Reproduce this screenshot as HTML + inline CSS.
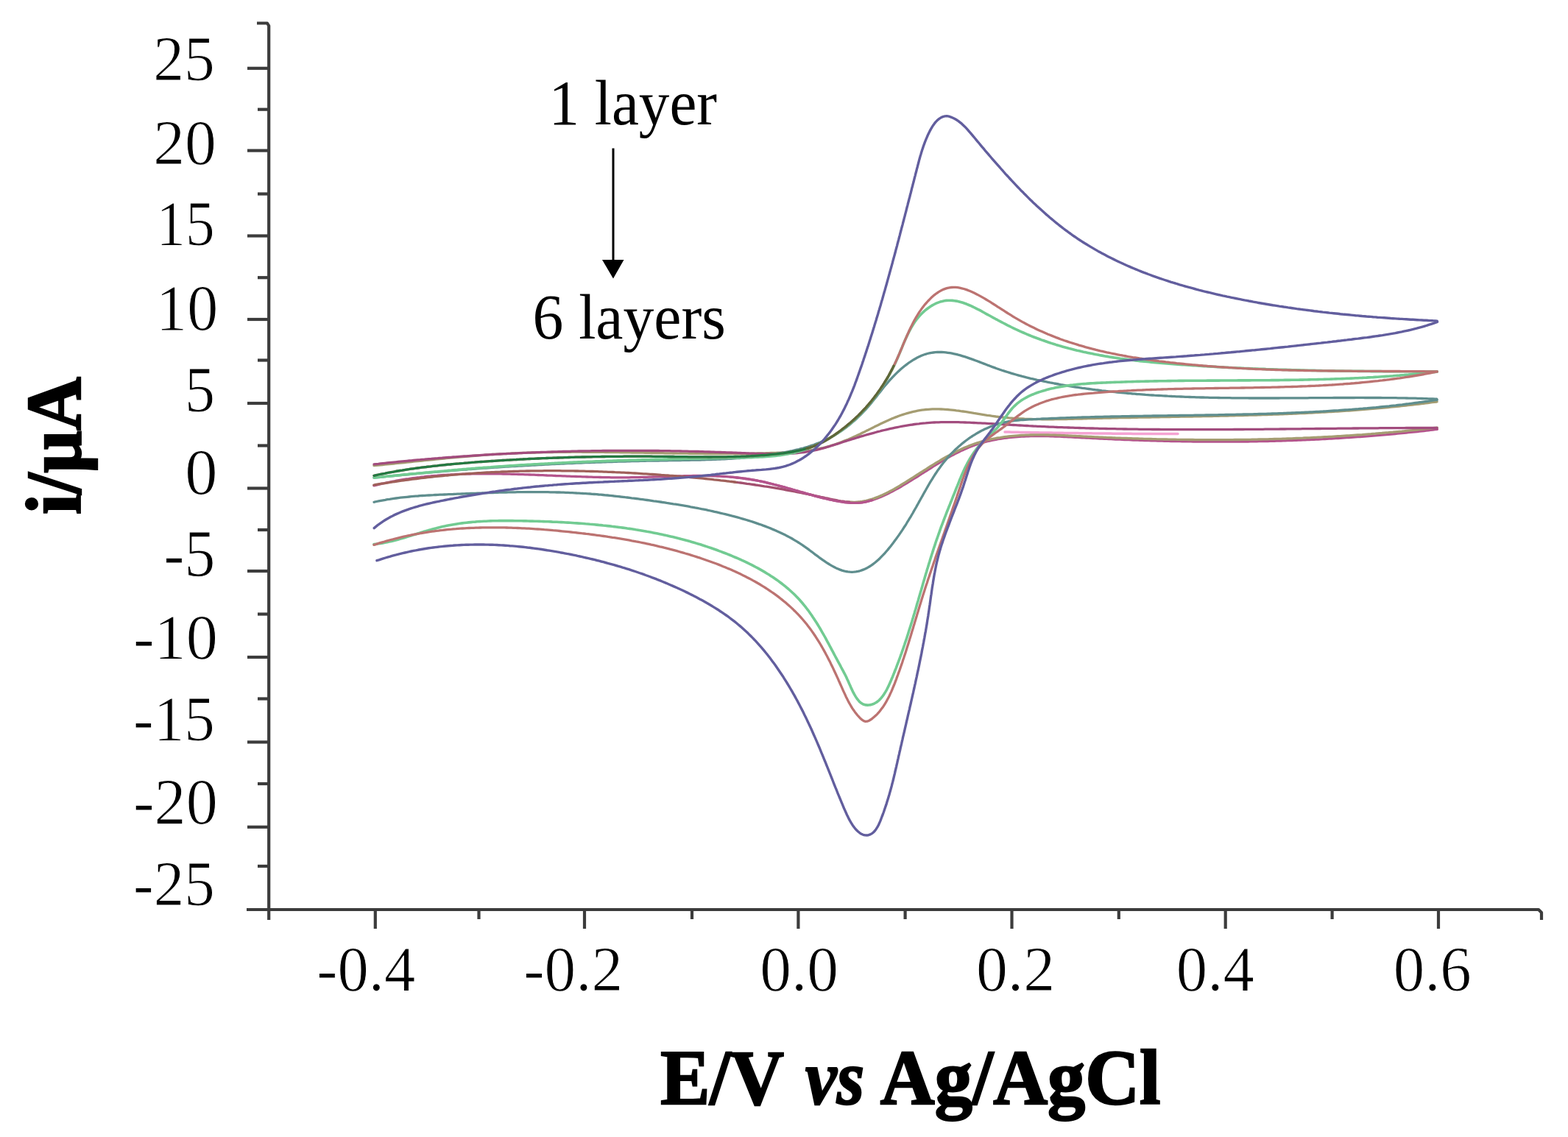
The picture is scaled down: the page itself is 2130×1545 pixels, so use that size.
<!DOCTYPE html>
<html><head><meta charset="utf-8"><title>Cyclic voltammograms</title>
<style>
html,body{margin:0;padding:0;background:#fff;}
body{width:2130px;height:1545px;overflow:hidden;}
svg{display:block;}
</style></head>
<body>
<svg width="2130" height="1545" viewBox="0 0 2130 1545">
<rect width="2130" height="1545" fill="#fff"/>
<path d="M349,31.5 L363,31.5 L365.2,35 L365.2,1250" fill="none" stroke="#3c3c3c" stroke-width="4.2" stroke-linejoin="round"/>
<path d="M335,1236 L2090,1236 L2094,1240 L2094,1250" fill="none" stroke="#3c3c3c" stroke-width="4.2" stroke-linejoin="round"/>
<line x1="336" y1="92.8" x2="365.2" y2="92.8" stroke="#3c3c3c" stroke-width="4.2"/>
<line x1="336" y1="204.6" x2="365.2" y2="204.6" stroke="#3c3c3c" stroke-width="4.2"/>
<line x1="336" y1="320.5" x2="365.2" y2="320.5" stroke="#3c3c3c" stroke-width="4.2"/>
<line x1="336" y1="434" x2="365.2" y2="434" stroke="#3c3c3c" stroke-width="4.2"/>
<line x1="336" y1="548" x2="365.2" y2="548" stroke="#3c3c3c" stroke-width="4.2"/>
<line x1="336" y1="663.5" x2="365.2" y2="663.5" stroke="#3c3c3c" stroke-width="4.2"/>
<line x1="336" y1="776" x2="365.2" y2="776" stroke="#3c3c3c" stroke-width="4.2"/>
<line x1="336" y1="893" x2="365.2" y2="893" stroke="#3c3c3c" stroke-width="4.2"/>
<line x1="336" y1="1008.4" x2="365.2" y2="1008.4" stroke="#3c3c3c" stroke-width="4.2"/>
<line x1="336" y1="1123.8" x2="365.2" y2="1123.8" stroke="#3c3c3c" stroke-width="4.2"/>
<line x1="350" y1="148.7" x2="365.2" y2="148.7" stroke="#3c3c3c" stroke-width="4.2"/>
<line x1="350" y1="263.5" x2="365.2" y2="263.5" stroke="#3c3c3c" stroke-width="4.2"/>
<line x1="350" y1="377.2" x2="365.2" y2="377.2" stroke="#3c3c3c" stroke-width="4.2"/>
<line x1="350" y1="489.5" x2="365.2" y2="489.5" stroke="#3c3c3c" stroke-width="4.2"/>
<line x1="350" y1="605.5" x2="365.2" y2="605.5" stroke="#3c3c3c" stroke-width="4.2"/>
<line x1="350" y1="720" x2="365.2" y2="720" stroke="#3c3c3c" stroke-width="4.2"/>
<line x1="350" y1="834.5" x2="365.2" y2="834.5" stroke="#3c3c3c" stroke-width="4.2"/>
<line x1="350" y1="949.5" x2="365.2" y2="949.5" stroke="#3c3c3c" stroke-width="4.2"/>
<line x1="350" y1="1065" x2="365.2" y2="1065" stroke="#3c3c3c" stroke-width="4.2"/>
<line x1="350" y1="1177" x2="365.2" y2="1177" stroke="#3c3c3c" stroke-width="4.2"/>
<line x1="509.8" y1="1236" x2="509.8" y2="1262" stroke="#3c3c3c" stroke-width="4.2"/>
<line x1="794" y1="1236" x2="794" y2="1262" stroke="#3c3c3c" stroke-width="4.2"/>
<line x1="1084.4" y1="1236" x2="1084.4" y2="1262" stroke="#3c3c3c" stroke-width="4.2"/>
<line x1="1374.5" y1="1236" x2="1374.5" y2="1262" stroke="#3c3c3c" stroke-width="4.2"/>
<line x1="1664.7" y1="1236" x2="1664.7" y2="1262" stroke="#3c3c3c" stroke-width="4.2"/>
<line x1="1954" y1="1236" x2="1954" y2="1262" stroke="#3c3c3c" stroke-width="4.2"/>
<line x1="650.5" y1="1236" x2="650.5" y2="1249" stroke="#3c3c3c" stroke-width="4.2"/>
<line x1="940" y1="1236" x2="940" y2="1249" stroke="#3c3c3c" stroke-width="4.2"/>
<line x1="1229.6" y1="1236" x2="1229.6" y2="1249" stroke="#3c3c3c" stroke-width="4.2"/>
<line x1="1519.8" y1="1236" x2="1519.8" y2="1249" stroke="#3c3c3c" stroke-width="4.2"/>
<line x1="1809.6" y1="1236" x2="1809.6" y2="1249" stroke="#3c3c3c" stroke-width="4.2"/>
<g fill="#000" font-family="'Liberation Serif', 'Times New Roman', serif">
<text transform="translate(208.23,109.46) scale(0.9744,1)" font-size="85.73" font-weight="normal" font-style="normal" stroke="#fff" stroke-width="1.0">25</text>
<text transform="translate(208.14,222.66) scale(0.9979,1)" font-size="85.8" font-weight="normal" font-style="normal" stroke="#fff" stroke-width="1.0">20</text>
<text transform="translate(212.22,333.45) scale(0.9168,1)" font-size="86.58" font-weight="normal" font-style="normal" stroke="#fff" stroke-width="1.0">15</text>
<text transform="translate(212.11,447.84) scale(0.9553,1)" font-size="88.03" font-weight="normal" font-style="normal" stroke="#fff" stroke-width="1.0">10</text>
<text transform="translate(251.03,559.02) scale(0.9146,1)" font-size="89.84" font-weight="normal" font-style="normal" stroke="#fff" stroke-width="1.0">5</text>
<text transform="translate(251.13,671.13) scale(0.9952,1)" font-size="88.91" font-weight="normal" font-style="normal" stroke="#fff" stroke-width="1.0">0</text>
<text transform="translate(222.49,783.41) scale(0.9217,1)" font-size="90.89" font-weight="normal" font-style="normal" stroke="#fff" stroke-width="1.0">-5</text>
<text transform="translate(180.90,895.16) scale(0.9992,1)" font-size="86.25" font-weight="normal" font-style="normal" stroke="#fff" stroke-width="1.0">-10</text>
<text transform="translate(181.02,1006.45) scale(0.9594,1)" font-size="86.58" font-weight="normal" font-style="normal" stroke="#fff" stroke-width="1.0">-15</text>
<text transform="translate(180.90,1119.44) scale(0.9774,1)" font-size="88.17" font-weight="normal" font-style="normal" stroke="#fff" stroke-width="1.0">-20</text>
<text transform="translate(181.02,1230.46) scale(0.9622,1)" font-size="86.33" font-weight="normal" font-style="normal" stroke="#fff" stroke-width="1.0">-25</text>
<text transform="translate(430.36,1345.70) scale(0.9840,1)" font-size="86" font-weight="normal" font-style="normal" stroke="#fff" stroke-width="1.0">-0.4</text>
<text transform="translate(711.13,1345.70) scale(0.9922,1)" font-size="86" font-weight="normal" font-style="normal" stroke="#fff" stroke-width="1.0">-0.2</text>
<text transform="translate(1032.25,1345.70) scale(0.9936,1)" font-size="86" font-weight="normal" font-style="normal" stroke="#fff" stroke-width="1.0">0.0</text>
<text transform="translate(1325.93,1345.70) scale(0.9982,1)" font-size="86" font-weight="normal" font-style="normal" stroke="#fff" stroke-width="1.0">0.2</text>
<text transform="translate(1597.87,1345.70) scale(0.9856,1)" font-size="86" font-weight="normal" font-style="normal" stroke="#fff" stroke-width="1.0">0.4</text>
<text transform="translate(1892.67,1345.70) scale(0.9876,1)" font-size="86" font-weight="normal" font-style="normal" stroke="#fff" stroke-width="1.0">0.6</text>
<text transform="translate(745.49,169.10) scale(0.9503,1)" font-size="87.5" font-weight="normal" font-style="normal" >1 layer</text>
<text transform="translate(723.41,460.00) scale(0.9558,1)" font-size="87.5" font-weight="normal" font-style="normal" >6 layers</text>
<text transform="translate(897.18,1500.30) scale(0.9538,1)" font-size="105.5" font-weight="bold" font-style="normal" stroke="#000" stroke-width="2.4">E/V</text>
<text transform="translate(1094.11,1500.30) scale(0.9108,1)" font-size="105.5" font-weight="bold" font-style="italic" stroke="#000" stroke-width="2.4">vs</text>
<text transform="translate(1195.80,1500.30) scale(0.9696,1)" font-size="105.5" font-weight="bold" font-style="normal" stroke="#000" stroke-width="2.4">Ag/AgCl</text>
<text transform="translate(108.8,699.02) rotate(-90) scale(0.9558,1)" font-size="105.5" font-weight="bold" stroke="#000" stroke-width="2.4">i/µA</text>
</g>
<line x1="833" y1="201.5" x2="833" y2="356" stroke="#000" stroke-width="3"/>
<path d="M818,353 L847.5,353 L833,378.5 Z" fill="#000"/>
<g fill="none" stroke-linejoin="round" stroke-linecap="round">
<path d="M1365.0,587.0 L1368.0,587.1 L1371.0,587.1 L1374.0,587.2 L1377.0,587.2 L1380.0,587.3 L1383.0,587.3 L1386.0,587.4 L1389.0,587.4 L1392.0,587.5 L1395.0,587.6 L1398.0,587.6 L1401.0,587.7 L1404.0,587.7 L1407.0,587.8 L1410.0,587.8 L1413.0,587.9 L1416.0,587.9 L1419.0,588.0 L1422.0,588.0 L1425.0,588.1 L1428.0,588.1 L1431.0,588.2 L1434.0,588.2 L1437.0,588.2 L1440.0,588.3 L1443.0,588.3 L1446.0,588.4 L1449.0,588.4 L1452.0,588.5 L1455.0,588.5 L1458.0,588.5 L1461.0,588.6 L1464.0,588.6 L1467.0,588.7 L1470.0,588.7 L1473.0,588.7 L1476.0,588.8 L1479.0,588.8 L1482.0,588.8 L1485.0,588.9 L1488.0,588.9 L1491.0,588.9 L1494.0,589.0 L1497.0,589.0 L1500.0,589.0 L1503.0,589.1 L1506.0,589.1 L1509.0,589.1 L1512.0,589.2 L1515.0,589.2 L1518.0,589.2 L1521.0,589.2 L1524.0,589.3 L1527.0,589.3 L1530.0,589.3 L1533.0,589.3 L1536.0,589.3 L1539.0,589.4 L1542.0,589.4 L1545.0,589.4 L1548.0,589.4 L1551.0,589.4 L1554.0,589.4 L1557.0,589.4 L1560.0,589.5 L1563.0,589.5 L1566.0,589.5 L1569.0,589.5 L1572.0,589.5 L1575.0,589.5 L1578.0,589.5 L1581.0,589.5 L1584.0,589.5 L1587.0,589.5 L1590.0,589.5 L1593.0,589.5 L1596.0,589.5 L1599.0,589.5 L1600.0,589.5" stroke="#f5a3d3" stroke-width="3.5"/>
<path d="M1952.4,583.4 L1949.4,583.7 L1946.4,584.1 L1943.4,584.4 L1940.3,584.8 L1937.3,585.1 L1934.3,585.5 L1931.3,585.8 L1928.3,586.1 L1925.3,586.5 L1922.3,586.8 L1919.3,587.1 L1916.3,587.4 L1913.3,587.7 L1910.3,588.0 L1907.3,588.3 L1904.3,588.6 L1901.3,588.9 L1898.3,589.2 L1895.3,589.5 L1892.3,589.8 L1889.3,590.0 L1886.3,590.3 L1883.3,590.6 L1880.3,590.8 L1877.3,591.1 L1874.3,591.4 L1871.3,591.6 L1868.3,591.9 L1865.4,592.1 L1862.4,592.4 L1859.4,592.6 L1856.4,592.8 L1853.4,593.1 L1850.4,593.3 L1847.4,593.5 L1844.4,593.7 L1841.5,593.9 L1838.5,594.1 L1835.5,594.3 L1832.5,594.5 L1829.5,594.7 L1826.5,594.9 L1823.5,595.1 L1820.6,595.3 L1817.6,595.5 L1814.6,595.7 L1811.6,595.9 L1808.6,596.0 L1805.6,596.2 L1802.7,596.4 L1799.7,596.5 L1796.7,596.7 L1793.7,596.8 L1790.7,597.0 L1787.8,597.1 L1784.8,597.3 L1781.8,597.4 L1778.8,597.6 L1775.8,597.7 L1772.9,597.8 L1769.9,597.9 L1766.9,598.1 L1763.9,598.2 L1760.9,598.3 L1758.0,598.4 L1755.0,598.5 L1752.0,598.6 L1749.0,598.7 L1746.0,598.8 L1743.1,598.9 L1740.1,599.0 L1737.1,599.1 L1734.1,599.2 L1731.1,599.3 L1728.2,599.3 L1725.2,599.4 L1722.2,599.5 L1719.2,599.5 L1716.2,599.6 L1713.3,599.7 L1710.3,599.7 L1707.3,599.8 L1704.3,599.8 L1701.3,599.9 L1698.4,599.9 L1695.4,600.0 L1692.4,600.0 L1689.4,600.0 L1686.4,600.1 L1683.4,600.1 L1680.5,600.1 L1677.5,600.1 L1674.5,600.2 L1671.5,600.2 L1668.5,600.2 L1665.5,600.2 L1662.5,600.2 L1659.6,600.2 L1656.6,600.2 L1653.6,600.2 L1650.6,600.2 L1647.6,600.2 L1644.6,600.2 L1641.6,600.2 L1638.6,600.1 L1635.6,600.1 L1632.7,600.1 L1629.7,600.1 L1626.7,600.0 L1623.7,600.0 L1620.7,600.0 L1617.7,599.9 L1614.7,599.9 L1611.7,599.9 L1608.7,599.8 L1605.7,599.8 L1602.7,599.7 L1599.7,599.6 L1596.7,599.6 L1593.7,599.5 L1590.7,599.5 L1587.7,599.4 L1584.7,599.3 L1581.7,599.3 L1578.7,599.2 L1575.7,599.1 L1572.7,599.0 L1569.7,598.9 L1566.6,598.9 L1563.6,598.8 L1560.6,598.7 L1557.6,598.6 L1554.6,598.5 L1551.6,598.4 L1548.6,598.3 L1545.6,598.2 L1542.5,598.1 L1539.5,598.0 L1536.5,597.8 L1533.5,597.7 L1530.5,597.6 L1527.4,597.5 L1524.4,597.4 L1521.4,597.2 L1518.4,597.1 L1515.3,597.0 L1512.3,596.9 L1509.3,596.7 L1506.2,596.6 L1503.2,596.4 L1500.2,596.3 L1497.1,596.2 L1494.1,596.0 L1491.1,595.9 L1488.0,595.7 L1485.0,595.6 L1482.0,595.4 L1478.9,595.2 L1475.9,595.1 L1472.8,594.9 L1469.8,594.8 L1466.7,594.6 L1463.7,594.4 L1460.6,594.3 L1457.6,594.1 L1454.5,593.9 L1451.5,593.8 L1448.4,593.6 L1445.4,593.5 L1442.3,593.3 L1439.3,593.2 L1436.2,593.1 L1433.2,593.0 L1430.2,592.9 L1427.1,592.8 L1424.1,592.7 L1421.1,592.7 L1418.0,592.6 L1415.0,592.6 L1412.0,592.6 L1409.0,592.6 L1406.0,592.6 L1403.0,592.6 L1400.0,592.7 L1397.0,592.8 L1394.0,592.9 L1391.0,593.0 L1388.0,593.2 L1385.0,593.3 L1382.1,593.5 L1379.1,593.8 L1376.2,594.0 L1373.2,594.3 L1370.3,594.6 L1367.4,595.0 L1364.4,595.4 L1361.5,595.8 L1358.6,596.3 L1355.7,596.7 L1352.9,597.3 L1350.0,597.8 L1347.1,598.4 L1344.3,599.1 L1341.4,599.7 L1338.6,600.5 L1335.8,601.2 L1333.0,602.0 L1330.2,602.9 L1327.4,603.8 L1324.6,604.7 L1321.9,605.7 L1319.1,606.8 L1316.4,607.8 L1313.7,609.0 L1311.0,610.1 L1308.3,611.4 L1305.6,612.6 L1302.9,613.9 L1300.3,615.2 L1297.6,616.6 L1295.0,618.0 L1292.3,619.4 L1289.7,620.9 L1287.1,622.3 L1284.4,623.8 L1281.8,625.4 L1279.2,626.9 L1276.6,628.5 L1274.0,630.0 L1271.4,631.6 L1268.8,633.2 L1266.2,634.9 L1263.7,636.5 L1261.1,638.1 L1258.5,639.8 L1255.9,641.4 L1253.3,643.0 L1250.8,644.7 L1248.2,646.3 L1245.6,648.0 L1243.0,649.6 L1240.4,651.2 L1237.8,652.8 L1235.2,654.4 L1232.6,656.0 L1230.0,657.6 L1227.4,659.1 L1224.8,660.7 L1222.2,662.2 L1219.6,663.7 L1217.0,665.1 L1214.3,666.6 L1211.7,668.0 L1209.0,669.3 L1206.4,670.7 L1203.7,672.0 L1201.0,673.3 L1198.3,674.5 L1195.6,675.6 L1192.9,676.8 L1190.2,677.8 L1187.4,678.8 L1184.7,679.7 L1181.9,680.5 L1179.1,681.2 L1176.3,681.8 L1173.5,682.3 L1170.7,682.8 L1167.9,683.1 L1165.0,683.3 L1162.1,683.4 L1159.3,683.4 L1156.4,683.3 L1153.5,683.1 L1150.6,682.8 L1147.7,682.5 L1144.7,682.1 L1141.8,681.7 L1138.9,681.2 L1135.9,680.6 L1133.0,680.1 L1130.1,679.5 L1127.2,678.8 L1124.2,678.2 L1121.3,677.5 L1118.4,676.8 L1115.5,676.1 L1112.6,675.3 L1109.7,674.6 L1106.7,673.8 L1103.8,673.0 L1100.9,672.2 L1098.0,671.4 L1095.1,670.6 L1092.2,669.7 L1089.3,668.9 L1086.4,668.1 L1083.4,667.2 L1080.5,666.4 L1077.6,665.5 L1074.7,664.7 L1071.8,663.9 L1068.9,663.0 L1066.0,662.2 L1063.0,661.4 L1060.1,660.6 L1057.2,659.8 L1054.3,659.0 L1051.4,658.3 L1048.4,657.5 L1045.5,656.8 L1042.6,656.1 L1039.7,655.4 L1036.7,654.7 L1033.8,654.1 L1030.9,653.5 L1027.9,652.9 L1025.0,652.4 L1022.0,651.9 L1019.1,651.4 L1016.1,650.9 L1013.2,650.5 L1010.2,650.1 L1007.3,649.7 L1004.3,649.3 L1001.3,649.0 L998.4,648.7 L995.4,648.4 L992.4,648.2 L989.5,647.9 L986.5,647.7 L983.5,647.5 L980.5,647.3 L977.6,647.2 L974.6,647.0 L971.6,646.9 L968.6,646.8 L965.6,646.7 L962.6,646.6 L959.7,646.6 L956.7,646.6 L953.7,646.5 L950.7,646.5 L947.7,646.5 L944.7,646.5 L941.7,646.5 L938.7,646.6 L935.7,646.6 L932.7,646.7 L929.7,646.7 L926.7,646.8 L923.7,646.8 L920.7,646.9 L917.7,647.0 L914.7,647.1 L911.7,647.2 L908.6,647.3 L905.6,647.4 L902.6,647.5 L899.6,647.6 L896.6,647.7 L893.6,647.8 L890.6,647.9 L887.6,648.0 L884.6,648.1 L881.6,648.2 L878.5,648.3 L875.5,648.3 L872.5,648.4 L869.5,648.5 L866.5,648.6 L863.5,648.6 L860.5,648.7 L857.5,648.7 L854.5,648.8 L851.4,648.8 L848.4,648.8 L845.4,648.8 L842.4,648.8 L839.4,648.8 L836.4,648.8 L833.4,648.8 L830.4,648.8 L827.4,648.7 L824.4,648.7 L821.4,648.6 L818.4,648.6 L815.4,648.5 L812.3,648.4 L809.3,648.4 L806.3,648.3 L803.3,648.2 L800.3,648.1 L797.3,648.0 L794.3,647.9 L791.3,647.8 L788.3,647.7 L785.3,647.6 L782.3,647.5 L779.3,647.4 L776.3,647.3 L773.3,647.2 L770.3,647.1 L767.3,646.9 L764.3,646.8 L761.3,646.7 L758.3,646.6 L755.3,646.5 L752.3,646.3 L749.3,646.2 L746.3,646.1 L743.3,646.0 L740.3,645.8 L737.3,645.7 L734.3,645.6 L731.3,645.5 L728.3,645.4 L725.3,645.2 L722.3,645.1 L719.3,645.0 L716.4,644.9 L713.4,644.8 L710.4,644.7 L707.4,644.6 L704.4,644.5 L701.4,644.4 L698.4,644.3 L695.4,644.3 L692.4,644.2 L689.4,644.1 L686.4,644.0 L683.4,644.0 L680.4,643.9 L677.4,643.9 L674.5,643.8 L671.5,643.8 L668.5,643.8 L665.5,643.8 L662.5,643.8 L659.5,643.8 L656.5,643.8 L653.5,643.8 L650.5,643.8 L647.6,643.8 L644.6,643.9 L641.6,643.9 L638.6,644.0 L635.6,644.0 L632.6,644.1 L629.6,644.2 L626.6,644.3 L623.7,644.4 L620.7,644.5 L617.7,644.7 L614.7,644.8 L611.7,645.0 L608.7,645.1 L605.7,645.3 L602.8,645.5 L599.8,645.7 L596.8,645.9 L593.8,646.2 L590.8,646.4 L587.8,646.7 L584.9,647.0 L581.9,647.2 L578.9,647.5 L575.9,647.9 L572.9,648.2 L570.0,648.6 L567.0,648.9 L564.0,649.3 L561.0,649.7 L558.0,650.1 L555.0,650.6 L552.1,651.0 L549.1,651.5 L546.1,652.0 L543.1,652.5 L540.2,653.0 L537.2,653.5 L534.2,654.1 L531.2,654.7 L528.2,655.3 L525.3,655.9 L522.3,656.5 L519.3,657.2 L516.3,657.9 L513.4,658.6 L510.4,659.3 L507.9,659.9" stroke="#b4548c" stroke-width="3.3"/>
<path d="M1952.3,581.1 L1949.3,581.4 L1946.3,581.7 L1943.3,582.1 L1940.3,582.4 L1937.3,582.7 L1934.3,583.0 L1931.3,583.4 L1928.2,583.7 L1925.2,584.0 L1922.2,584.3 L1919.2,584.6 L1916.2,584.9 L1913.2,585.2 L1910.2,585.5 L1907.2,585.8 L1904.2,586.1 L1901.2,586.3 L1898.2,586.6 L1895.2,586.9 L1892.2,587.2 L1889.2,587.4 L1886.2,587.7 L1883.2,587.9 L1880.2,588.2 L1877.2,588.5 L1874.2,588.7 L1871.2,588.9 L1868.2,589.2 L1865.2,589.4 L1862.3,589.7 L1859.3,589.9 L1856.3,590.1 L1853.3,590.3 L1850.3,590.6 L1847.3,590.8 L1844.3,591.0 L1841.3,591.2 L1838.3,591.4 L1835.4,591.6 L1832.4,591.8 L1829.4,592.0 L1826.4,592.2 L1823.4,592.4 L1820.4,592.6 L1817.4,592.7 L1814.5,592.9 L1811.5,593.1 L1808.5,593.3 L1805.5,593.4 L1802.5,593.6 L1799.5,593.7 L1796.5,593.9 L1793.6,594.1 L1790.6,594.2 L1787.6,594.4 L1784.6,594.5 L1781.6,594.6 L1778.7,594.8 L1775.7,594.9 L1772.7,595.0 L1769.7,595.2 L1766.7,595.3 L1763.7,595.4 L1760.8,595.5 L1757.8,595.6 L1754.8,595.8 L1751.8,595.9 L1748.8,596.0 L1745.9,596.1 L1742.9,596.2 L1739.9,596.3 L1736.9,596.4 L1733.9,596.4 L1731.0,596.5 L1728.0,596.6 L1725.0,596.7 L1722.0,596.8 L1719.0,596.8 L1716.1,596.9 L1713.1,597.0 L1710.1,597.0 L1707.1,597.1 L1704.1,597.2 L1701.1,597.2 L1698.2,597.3 L1695.2,597.3 L1692.2,597.4 L1689.2,597.4 L1686.2,597.4 L1683.2,597.5 L1680.3,597.5 L1677.3,597.5 L1674.3,597.6 L1671.3,597.6 L1668.3,597.6 L1665.3,597.6 L1662.3,597.6 L1659.4,597.6 L1656.4,597.7 L1653.4,597.7 L1650.4,597.7 L1647.4,597.7 L1644.4,597.7 L1641.4,597.7 L1638.4,597.7 L1635.4,597.6 L1632.4,597.6 L1629.5,597.6 L1626.5,597.6 L1623.5,597.6 L1620.5,597.5 L1617.5,597.5 L1614.5,597.5 L1611.5,597.4 L1608.5,597.4 L1605.5,597.4 L1602.5,597.3 L1599.5,597.3 L1596.5,597.2 L1593.5,597.2 L1590.5,597.1 L1587.5,597.1 L1584.5,597.0 L1581.5,597.0 L1578.5,596.9 L1575.5,596.8 L1572.5,596.8 L1569.5,596.7 L1566.4,596.6 L1563.4,596.5 L1560.4,596.5 L1557.4,596.4 L1554.4,596.3 L1551.4,596.2 L1548.4,596.1 L1545.4,596.0 L1542.3,595.9 L1539.3,595.8 L1536.3,595.7 L1533.3,595.6 L1530.3,595.5 L1527.3,595.4 L1524.2,595.3 L1521.2,595.2 L1518.2,595.1 L1515.2,595.0 L1512.1,594.8 L1509.1,594.7 L1506.1,594.6 L1503.0,594.5 L1500.0,594.3 L1497.0,594.2 L1493.9,594.1 L1490.9,593.9 L1487.9,593.8 L1484.8,593.6 L1481.8,593.5 L1478.8,593.4 L1475.7,593.2 L1472.7,593.1 L1469.6,592.9 L1466.6,592.7 L1463.5,592.6 L1460.5,592.4 L1457.4,592.3 L1454.4,592.1 L1451.3,592.0 L1448.3,591.8 L1445.3,591.7 L1442.2,591.6 L1439.2,591.5 L1436.1,591.4 L1433.1,591.2 L1430.0,591.2 L1427.0,591.1 L1424.0,591.0 L1421.0,591.0 L1417.9,590.9 L1414.9,590.9 L1411.9,590.9 L1408.9,590.9 L1405.9,590.9 L1402.9,591.0 L1399.9,591.0 L1396.9,591.1 L1393.9,591.2 L1390.9,591.3 L1387.9,591.5 L1385.0,591.7 L1382.0,591.9 L1379.0,592.1 L1376.1,592.4 L1373.1,592.7 L1370.2,593.0 L1367.3,593.3 L1364.4,593.7 L1361.5,594.1 L1358.6,594.6 L1355.7,595.0 L1352.8,595.5 L1349.9,596.1 L1347.0,596.7 L1344.2,597.3 L1341.4,598.0 L1338.5,598.7 L1335.7,599.4 L1332.9,600.2 L1330.1,601.0 L1327.3,601.9 L1324.5,602.8 L1321.8,603.8 L1319.0,604.8 L1316.3,605.9 L1313.6,607.0 L1310.8,608.1 L1308.1,609.3 L1305.5,610.5 L1302.8,611.8 L1300.1,613.1 L1297.4,614.4 L1294.8,615.8 L1292.1,617.2 L1289.5,618.6 L1286.9,620.0 L1284.2,621.5 L1281.6,623.0 L1279.0,624.5 L1276.4,626.1 L1273.8,627.6 L1271.2,629.2 L1268.6,630.8 L1266.0,632.4 L1263.4,634.0 L1260.8,635.6 L1258.3,637.3 L1255.7,638.9 L1253.1,640.6 L1250.5,642.2 L1247.9,643.9 L1245.4,645.5 L1242.8,647.2 L1240.2,648.8 L1237.6,650.4 L1235.0,652.1 L1232.5,653.7 L1229.9,655.3 L1227.3,656.9 L1224.7,658.5 L1222.1,660.1 L1219.5,661.6 L1216.9,663.2 L1214.3,664.7 L1211.6,666.1 L1209.0,667.5 L1206.4,668.9 L1203.7,670.3 L1201.1,671.5 L1198.4,672.8 L1195.7,673.9 L1193.0,675.1 L1190.3,676.1 L1187.6,677.1 L1184.9,678.0 L1182.1,678.8 L1179.4,679.6 L1176.6,680.3 L1173.8,680.8 L1171.0,681.3 L1168.2,681.7 L1165.3,682.0 L1162.5,682.2 L1159.6,682.3 L1156.7,682.2 L1153.8,682.1 L1150.8,681.9" stroke="#a59d72" stroke-width="3.3"/>
<path d="M1153.8,682.1 L1150.8,681.9 L1147.9,681.6 L1144.9,681.2 L1142.0,680.8 L1139.0,680.3 L1136.0,679.7 L1133.0,679.1 L1130.0,678.5 L1127.0,677.9 L1124.0,677.2 L1121.0,676.6 L1118.1,675.9 L1115.1,675.3 L1112.1,674.6 L1109.1,674.0 L1106.2,673.4 L1103.2,672.7 L1100.2,672.1 L1097.3,671.5 L1094.3,670.9 L1091.4,670.3 L1088.4,669.7 L1085.5,669.1 L1082.6,668.6 L1079.6,668.0 L1076.7,667.4 L1073.7,666.9 L1070.8,666.3 L1067.8,665.8 L1064.9,665.2 L1062.0,664.7 L1059.0,664.2 L1056.1,663.7 L1053.1,663.2 L1050.2,662.7 L1047.2,662.2 L1044.3,661.7 L1041.3,661.2 L1038.4,660.8 L1035.4,660.3 L1032.4,659.8 L1029.5,659.4 L1026.5,659.0 L1023.6,658.5 L1020.6,658.1 L1017.6,657.7 L1014.7,657.3 L1011.7,656.8 L1008.7,656.4 L1005.8,656.0 L1002.8,655.7 L999.8,655.3 L996.9,654.9" stroke="#a3506f" stroke-width="3.3"/>
<path d="M999.8,655.3 L996.9,654.9 L993.9,654.5 L990.9,654.2 L987.9,653.8 L985.0,653.4 L982.0,653.1 L979.0,652.8 L976.0,652.4 L973.0,652.1 L970.1,651.8 L967.1,651.4 L964.1,651.1 L961.1,650.8 L958.1,650.5 L955.2,650.2 L952.2,649.9 L949.2,649.6 L946.2,649.3 L943.2,649.1 L940.2,648.8 L937.2,648.5 L934.2,648.2 L931.3,648.0 L928.3,647.7 L925.3,647.5 L922.3,647.2 L919.3,647.0 L916.3,646.7 L913.3,646.5 L910.3,646.3 L907.3,646.0 L904.3,645.8 L901.3,645.6 L898.4,645.4 L895.4,645.1 L892.4,644.9 L889.4,644.7 L886.4,644.5 L883.4,644.3 L880.4,644.1 L877.4,643.9 L874.4,643.8 L871.4,643.6 L868.4,643.4 L865.4,643.2 L862.4,643.0 L859.4,642.9 L856.4,642.7 L853.4,642.5 L850.4,642.4 L847.4,642.2 L844.4,642.1 L841.4,641.9 L838.4,641.8 L835.4,641.7 L832.4,641.5 L829.4,641.4 L826.4,641.3 L823.4,641.2 L820.4,641.1 L817.4,640.9 L814.4,640.8 L811.4,640.7 L808.4,640.6 L805.4,640.5 L802.4,640.5 L799.4,640.4 L796.4,640.3 L793.4,640.2 L790.4,640.2 L787.5,640.1 L784.5,640.0 L781.5,640.0 L778.5,639.9 L775.5,639.9 L772.5,639.8 L769.5,639.8 L766.5,639.8 L763.5,639.8 L760.5,639.7 L757.5,639.7 L754.5,639.7 L751.5,639.7 L748.5,639.7 L745.5,639.7 L742.5,639.7 L739.5,639.7 L736.5,639.8 L733.5,639.8 L730.5,639.8 L727.5,639.8 L724.5,639.9 L721.5,639.9 L718.5,640.0 L715.5,640.0 L712.5,640.1 L709.5,640.2 L706.5,640.2 L703.5,640.3 L700.5,640.4 L697.5,640.5 L694.5,640.6 L691.5,640.7 L688.5,640.8 L685.5,640.9 L682.5,641.0 L679.5,641.2 L676.5,641.3 L673.5,641.4 L670.6,641.6 L667.6,641.7 L664.6,641.9 L661.6,642.0 L658.6,642.2 L655.6,642.4 L652.6,642.6 L649.6,642.7 L646.6,642.9 L643.6,643.1 L640.6,643.3 L637.6,643.5 L634.6,643.7 L631.7,644.0 L628.7,644.2 L625.7,644.4 L622.7,644.7 L619.7,644.9 L616.7,645.2 L613.7,645.4 L610.7,645.7 L607.8,646.0 L604.8,646.2 L601.8,646.5 L598.8,646.8 L595.8,647.1 L592.8,647.4 L589.9,647.7 L586.9,648.0 L583.9,648.4 L580.9,648.7 L577.9,649.0 L574.9,649.4 L572.0,649.7 L569.0,650.1 L566.0,650.5 L563.0,650.8 L560.0,651.2 L557.1,651.6 L554.1,652.0 L551.1,652.4 L548.1,652.8 L545.2,653.2 L542.2,653.6 L539.2,654.0 L536.2,654.5 L533.3,654.9 L530.3,655.4 L527.3,655.8 L524.4,656.3 L521.4,656.8 L518.4,657.2 L515.5,657.7 L512.5,658.2 L509.5,658.7 L507.9,659.0" stroke="#a0605a" stroke-width="3.3"/>
<path d="M1184.7,679.7 L1181.9,680.5 L1179.1,681.2 L1176.3,681.8 L1173.5,682.3 L1170.7,682.8 L1167.9,683.1 L1165.0,683.3 L1162.1,683.4 L1159.3,683.4 L1156.4,683.3 L1153.5,683.1 L1150.6,682.8 L1147.7,682.5 L1144.7,682.1 L1141.8,681.7 L1138.9,681.2 L1135.9,680.6 L1133.0,680.1 L1130.1,679.5 L1127.2,678.8 L1124.2,678.2 L1121.3,677.5 L1118.4,676.8 L1115.5,676.1 L1112.6,675.3 L1109.7,674.6 L1106.7,673.8 L1103.8,673.0 L1100.9,672.2 L1098.0,671.4 L1095.1,670.6 L1092.2,669.7 L1089.3,668.9 L1086.4,668.1 L1083.4,667.2 L1080.5,666.4 L1077.6,665.5 L1074.7,664.7 L1071.8,663.9 L1068.9,663.0 L1066.0,662.2 L1063.0,661.4 L1060.1,660.6 L1057.2,659.8 L1054.3,659.0 L1051.4,658.3 L1048.4,657.5 L1045.5,656.8 L1042.6,656.1 L1039.7,655.4 L1036.7,654.7 L1033.8,654.1 L1030.9,653.5 L1027.9,652.9 L1025.0,652.4 L1022.0,651.9 L1019.1,651.4 L1016.1,650.9 L1013.2,650.5 L1010.2,650.1 L1007.3,649.7 L1004.3,649.3 L1001.3,649.0 L998.4,648.7 L995.4,648.4 L992.4,648.2" stroke="#b4548c" stroke-width="3.3"/>
<path d="M507.9,632.7 L510.9,632.4 L513.9,632.1 L516.9,631.8 L519.9,631.5 L522.9,631.2 L525.9,630.9 L528.9,630.6 L531.9,630.3 L534.9,630.0 L537.8,629.7 L540.8,629.4 L543.8,629.1 L546.8,628.8 L549.8,628.5 L552.8,628.2 L555.8,627.8 L558.7,627.5 L561.7,627.2 L564.7,626.9 L567.7,626.6 L570.7,626.3 L573.7,626.0 L576.6,625.7 L579.6,625.4 L582.6,625.1 L585.6,624.8 L588.6,624.5 L591.6,624.2 L594.5,623.9 L597.5,623.6 L600.5,623.3 L603.5,623.0 L606.5,622.7 L609.4,622.4 L612.4,622.1 L615.4,621.9 L618.4,621.6 L621.4,621.3 L624.4,621.0 L627.3,620.8 L630.3,620.5 L633.3,620.3 L636.3,620.0 L639.3,619.8 L642.3,619.5 L645.2,619.3 L648.2,619.0 L651.2,618.8 L654.2,618.6 L657.2,618.4 L660.2,618.1 L663.2,617.9 L666.1,617.7 L669.1,617.5 L672.1,617.3 L675.1,617.1 L678.1,617.0 L681.1,616.8 L684.1,616.6 L687.1,616.5 L690.1,616.3 L693.1,616.2 L696.1,616.0 L699.1,615.9 L702.0,615.8 L705.0,615.6 L708.0,615.5 L711.0,615.4 L714.0,615.3 L717.0,615.2 L720.0,615.1 L723.0,615.0 L726.0,615.0 L729.0,614.9 L732.0,614.8 L735.0,614.7 L738.0,614.7 L741.0,614.6 L744.0,614.6 L747.0,614.5 L750.0,614.5 L753.0,614.4 L756.0,614.4 L759.0,614.4 L762.1,614.3 L765.1,614.3 L768.1,614.3 L771.1,614.3 L774.1,614.3 L777.1,614.2 L780.1,614.2 L783.1,614.2 L786.1,614.2 L789.1,614.2 L792.1,614.3 L795.1,614.3 L798.1,614.3 L801.1,614.3 L804.1,614.3 L807.2,614.3 L810.2,614.4 L813.2,614.4 L816.2,614.4 L819.2,614.4 L822.2,614.5 L825.2,614.5 L828.2,614.5 L831.2,614.6 L834.2,614.6 L837.2,614.7 L840.3,614.7 L843.3,614.8 L846.3,614.8 L849.3,614.8 L852.3,614.9 L855.3,614.9 L858.3,615.0 L861.3,615.0 L864.3,615.1 L867.3,615.1 L870.3,615.2 L873.4,615.2 L876.4,615.3 L879.4,615.4 L882.4,615.4 L885.4,615.5 L888.4,615.5 L891.4,615.6 L894.4,615.6 L897.4,615.7 L900.4,615.7 L903.4,615.8 L906.4,615.8 L909.5,615.9 L912.5,615.9 L915.5,616.0 L918.5,616.0 L921.5,616.1 L924.5,616.1 L927.5,616.1 L930.5,616.2 L933.5,616.2 L936.5,616.3 L939.5,616.3 L942.5,616.3 L945.5,616.4 L948.5,616.4 L951.5,616.4 L954.5,616.4 L957.5,616.5 L960.5,616.5 L963.5,616.5 L966.5,616.5 L969.5,616.5 L972.5,616.5 L975.5,616.5 L978.5,616.6 L981.5,616.6 L984.5,616.5 L987.5,616.5 L990.5,616.5 L993.5,616.5 L996.5,616.5 L999.5,616.5 L1002.5,616.5 L1005.5,616.4 L1008.5,616.4 L1011.5,616.4 L1014.5,616.3 L1017.5,616.3 L1020.5,616.2 L1023.4,616.2 L1026.4,616.1 L1029.4,616.0 L1032.4,616.0 L1035.4,615.9 L1038.4,615.8 L1041.4,615.7 L1044.4,615.6 L1047.3,615.5 L1050.3,615.4 L1053.3,615.3 L1056.3,615.2 L1059.3,615.1 L1062.2,615.0 L1065.2,614.8 L1068.2,614.7 L1071.2,614.5 L1074.2,614.4 L1077.1,614.2 L1080.1,614.0 L1083.0,613.8 L1086.0,613.5 L1089.0,613.2 L1091.9,612.9 L1094.8,612.6 L1097.8,612.2 L1100.7,611.8 L1103.6,611.4 L1106.5,610.9 L1109.4,610.4 L1112.3,609.8 L1115.2,609.2 L1118.1,608.6 L1121.0,607.9 L1123.8,607.1 L1126.7,606.3 L1129.5,605.4 L1132.3,604.5 L1135.1,603.6 L1138.0,602.6 L1140.8,601.6 L1143.6,600.5 L1146.3,599.4 L1149.1,598.3 L1151.9,597.2 L1154.7,596.0 L1157.5,594.8 L1160.2,593.5 L1163.0,592.3 L1165.7,591.0 L1168.5,589.7 L1171.2,588.3 L1174.0,587.0 L1176.7,585.6 L1179.5,584.3 L1182.2,582.9 L1185.0,581.5 L1187.7,580.1 L1190.4,578.8 L1193.2,577.4 L1195.9,576.1 L1198.7,574.8 L1201.4,573.5 L1204.2,572.2 L1207.0,571.0 L1209.7,569.8 L1212.5,568.6 L1215.3,567.4 L1218.1,566.4 L1220.9,565.3 L1223.7,564.3 L1226.5,563.4 L1229.3,562.5 L1232.2,561.6 L1235.0,560.8 L1237.8,560.1 L1240.7,559.4 L1243.5,558.8 L1246.4,558.2 L1249.3,557.7 L1252.2,557.2 L1255.0,556.8 L1257.9,556.5 L1260.8,556.3 L1263.7,556.1 L1266.7,555.9 L1269.6,555.9 L1272.5,555.8 L1275.4,555.9 L1278.4,556.0 L1281.3,556.1 L1284.3,556.3 L1287.2,556.5 L1290.2,556.8 L1293.1,557.1 L1296.1,557.4 L1299.1,557.8 L1302.0,558.1 L1305.0,558.6 L1308.0,559.0 L1311.0,559.4 L1314.0,559.9 L1316.9,560.4 L1319.9,560.9 L1322.9,561.4 L1325.9,561.8 L1328.9,562.3 L1331.9,562.8 L1334.9,563.3 L1337.9,563.8 L1340.9,564.3 L1343.9,564.7 L1346.9,565.2 L1349.9,565.6 L1352.9,566.0 L1355.9,566.3 L1358.9,566.7 L1361.9,567.0 L1364.8,567.3 L1367.8,567.6 L1370.8,567.9 L1373.8,568.1 L1376.8,568.3 L1379.8,568.5 L1382.8,568.7 L1385.8,568.9 L1388.8,569.0 L1391.8,569.2 L1394.7,569.3 L1397.7,569.4 L1400.7,569.5 L1403.7,569.6 L1406.7,569.6 L1409.7,569.7 L1412.7,569.7 L1415.7,569.8 L1418.6,569.8 L1421.6,569.8 L1424.6,569.8 L1427.6,569.8 L1430.6,569.8 L1433.6,569.7 L1436.6,569.7 L1439.5,569.7 L1442.5,569.6 L1445.5,569.6 L1448.5,569.5 L1451.5,569.4 L1454.5,569.4 L1457.5,569.3 L1460.4,569.2 L1463.4,569.1 L1466.4,569.1 L1469.4,569.0 L1472.4,568.9 L1475.4,568.8 L1478.4,568.7 L1481.4,568.7 L1484.3,568.6 L1487.3,568.5 L1490.3,568.4 L1493.3,568.4 L1496.3,568.3 L1499.3,568.2 L1502.3,568.1 L1505.3,568.1 L1508.3,568.0 L1511.3,567.9 L1514.3,567.9 L1517.3,567.8 L1520.3,567.7 L1523.2,567.7 L1526.2,567.6 L1529.2,567.6 L1532.2,567.5 L1535.2,567.5 L1538.2,567.4 L1541.2,567.3 L1544.2,567.3 L1547.2,567.2 L1550.2,567.2 L1553.2,567.1 L1556.2,567.1 L1559.2,567.0 L1562.2,567.0 L1565.2,566.9 L1568.2,566.9 L1571.2,566.8 L1574.2,566.8 L1577.2,566.7 L1580.2,566.7 L1583.2,566.6 L1586.2,566.5 L1589.2,566.5 L1592.2,566.4 L1595.2,566.4 L1598.2,566.3 L1601.2,566.3 L1604.2,566.2 L1607.2,566.2 L1610.2,566.1 L1613.2,566.1 L1616.2,566.0 L1619.2,566.0 L1622.2,565.9 L1625.2,565.9 L1628.2,565.8 L1631.2,565.8 L1634.2,565.7 L1637.2,565.6 L1640.2,565.6 L1643.2,565.5 L1646.2,565.5 L1649.2,565.4 L1652.2,565.3 L1655.2,565.3 L1658.2,565.2 L1661.2,565.1 L1664.2,565.1 L1667.2,565.0 L1670.3,564.9 L1673.3,564.9 L1676.3,564.8 L1679.3,564.7 L1682.3,564.6 L1685.3,564.6 L1688.3,564.5 L1691.3,564.4 L1694.3,564.3 L1697.3,564.2 L1700.3,564.2 L1703.3,564.1 L1706.3,564.0 L1709.3,563.9 L1712.3,563.8 L1715.3,563.7 L1718.3,563.6 L1721.3,563.5 L1724.3,563.4 L1727.3,563.3 L1730.3,563.2 L1733.3,563.1 L1736.3,563.0 L1739.3,562.9 L1742.3,562.8 L1745.3,562.6 L1748.3,562.5 L1751.3,562.4 L1754.3,562.3 L1757.3,562.1 L1760.3,562.0 L1763.3,561.9 L1766.3,561.7 L1769.3,561.6 L1772.3,561.5 L1775.3,561.3 L1778.3,561.2 L1781.3,561.0 L1784.3,560.9 L1787.3,560.7 L1790.3,560.6 L1793.2,560.4 L1796.2,560.2 L1799.2,560.1 L1802.2,559.9 L1805.2,559.7 L1808.2,559.5 L1811.2,559.3 L1814.2,559.2 L1817.2,559.0 L1820.2,558.8 L1823.2,558.6 L1826.2,558.4 L1829.2,558.2 L1832.2,558.0 L1835.2,557.8 L1838.1,557.5 L1841.1,557.3 L1844.1,557.1 L1847.1,556.9 L1850.1,556.6 L1853.1,556.4 L1856.1,556.2 L1859.1,555.9 L1862.0,555.7 L1865.0,555.4 L1868.0,555.1 L1871.0,554.9 L1874.0,554.6 L1877.0,554.3 L1880.0,554.1 L1882.9,553.8 L1885.9,553.5 L1888.9,553.2 L1891.9,552.9 L1894.9,552.6 L1897.8,552.3 L1900.8,552.0 L1903.8,551.7 L1906.8,551.4 L1909.8,551.0 L1912.7,550.7 L1915.7,550.4 L1918.7,550.0 L1921.7,549.7 L1924.6,549.3 L1927.6,549.0 L1930.6,548.6 L1933.6,548.3 L1936.5,547.9 L1939.5,547.5 L1942.5,547.1 L1945.4,546.7 L1948.4,546.4 L1951.4,546.0 L1952.1,545.9" stroke="#a59d72" stroke-width="3.3"/>
<path d="M508.0,630.9 L511.0,630.6 L513.9,630.3 L516.9,629.9 L519.9,629.6 L522.9,629.3 L525.9,629.0 L528.9,628.7 L531.9,628.4 L534.9,628.1 L537.8,627.8 L540.8,627.5 L543.8,627.2 L546.8,626.9 L549.8,626.6 L552.8,626.3 L555.8,626.0 L558.8,625.8 L561.7,625.5 L564.7,625.2 L567.7,624.9 L570.7,624.7 L573.7,624.4 L576.7,624.2 L579.7,623.9 L582.7,623.6 L585.7,623.4 L588.6,623.1 L591.6,622.9 L594.6,622.7 L597.6,622.4 L600.6,622.2 L603.6,621.9 L606.6,621.7 L609.6,621.5 L612.6,621.3 L615.6,621.0 L618.5,620.8 L621.5,620.6 L624.5,620.4 L627.5,620.2 L630.5,620.0 L633.5,619.8 L636.5,619.6 L639.5,619.4 L642.5,619.2 L645.5,619.0 L648.5,618.8 L651.4,618.6 L654.4,618.4 L657.4,618.2 L660.4,618.0 L663.4,617.9 L666.4,617.7 L669.4,617.5 L672.4,617.4 L675.4,617.2 L678.4,617.0 L681.4,616.9 L684.4,616.7 L687.4,616.6 L690.3,616.4 L693.3,616.3 L696.3,616.1 L699.3,616.0 L702.3,615.8 L705.3,615.7 L708.3,615.6 L711.3,615.4 L714.3,615.3 L717.3,615.2 L720.3,615.1 L723.3,614.9 L726.3,614.8 L729.3,614.7 L732.3,614.6 L735.3,614.5 L738.3,614.4 L741.3,614.3 L744.2,614.2 L747.2,614.1 L750.2,614.0 L753.2,613.9 L756.2,613.8 L759.2,613.7 L762.2,613.6 L765.2,613.5 L768.2,613.5 L771.2,613.4 L774.2,613.3 L777.2,613.2 L780.2,613.2 L783.2,613.1 L786.2,613.0 L789.2,613.0 L792.2,612.9 L795.2,612.9 L798.2,612.8 L801.2,612.8 L804.2,612.7 L807.2,612.7 L810.2,612.6 L813.2,612.6 L816.2,612.6 L819.2,612.5 L822.2,612.5 L825.2,612.5 L828.2,612.4 L831.2,612.4 L834.2,612.4 L837.2,612.4 L840.2,612.4 L843.2,612.4 L846.2,612.4 L849.2,612.3 L852.2,612.3 L855.2,612.3 L858.2,612.3 L861.2,612.3 L864.2,612.3 L867.2,612.4 L870.2,612.4 L873.2,612.4 L876.2,612.4 L879.2,612.4 L882.2,612.4 L885.2,612.5 L888.2,612.5 L891.2,612.5 L894.2,612.5 L897.2,612.6 L900.2,612.6 L903.2,612.7 L906.3,612.7 L909.3,612.7 L912.3,612.8 L915.3,612.8 L918.3,612.9 L921.3,612.9 L924.3,613.0 L927.3,613.1 L930.3,613.1 L933.3,613.2 L936.3,613.3 L939.3,613.3 L942.3,613.4 L945.3,613.5 L948.3,613.5 L951.3,613.6 L954.4,613.7 L957.4,613.8 L960.4,613.9 L963.4,614.0 L966.4,614.1 L969.4,614.2 L972.4,614.3 L975.4,614.4 L978.4,614.5 L981.4,614.6 L984.4,614.7 L987.5,614.8 L990.5,614.9 L993.5,615.0 L996.5,615.1 L999.5,615.2 L1002.5,615.4 L1005.5,615.5 L1008.5,615.6 L1011.5,615.7 L1014.5,615.8 L1017.6,616.0 L1020.6,616.1 L1023.6,616.2 L1026.6,616.3 L1029.6,616.4 L1032.6,616.5 L1035.6,616.5 L1038.6,616.6 L1041.6,616.7 L1044.6,616.7 L1047.6,616.7 L1050.5,616.7 L1053.5,616.7 L1056.5,616.7 L1059.5,616.7 L1062.5,616.6 L1065.4,616.6 L1068.4,616.5 L1071.4,616.3 L1074.3,616.2 L1077.3,616.0 L1080.2,615.8 L1083.1,615.5 L1086.1,615.2 L1089.0,614.9 L1091.9,614.5 L1094.8,614.1 L1097.7,613.7 L1100.6,613.2 L1103.5,612.6 L1106.4,612.0 L1109.2,611.4 L1112.1,610.7 L1114.9,609.9 L1117.8,609.2 L1120.6,608.4 L1123.5,607.5 L1126.3,606.7 L1129.1,605.8 L1132.0,604.9 L1134.8,604.0 L1137.7,603.1 L1140.5,602.2 L1143.3,601.3 L1146.2,600.3 L1149.0,599.4 L1151.9,598.5 L1154.7,597.6 L1157.6,596.7 L1160.5,595.8 L1163.3,595.0 L1166.2,594.1 L1169.1,593.2 L1172.0,592.4 L1174.9,591.5 L1177.8,590.7 L1180.7,589.9 L1183.6,589.1 L1186.5,588.3 L1189.4,587.5 L1192.3,586.7 L1195.2,586.0 L1198.1,585.2 L1201.1,584.5 L1204.0,583.8 L1206.9,583.1 L1209.9,582.4 L1212.8,581.8 L1215.8,581.2 L1218.7,580.6 L1221.7,580.0 L1224.6,579.4 L1227.6,578.9 L1230.6,578.4 L1233.5,577.9 L1236.5,577.4 L1239.5,577.0 L1242.4,576.5 L1245.4,576.1 L1248.4,575.8 L1251.4,575.4 L1254.3,575.1 L1257.3,574.9 L1260.3,574.6 L1263.3,574.4 L1266.3,574.2 L1269.2,574.0 L1272.2,573.9 L1275.2,573.8 L1278.2,573.7 L1281.1,573.6 L1284.1,573.6 L1287.1,573.6 L1290.1,573.6 L1293.0,573.6 L1296.0,573.6 L1299.0,573.7 L1302.0,573.7 L1304.9,573.8 L1307.9,573.9 L1310.9,574.0 L1313.9,574.1 L1316.9,574.2 L1319.8,574.4 L1322.8,574.5 L1325.8,574.6 L1328.8,574.8 L1331.8,574.9 L1334.8,575.1 L1337.8,575.2 L1340.7,575.4 L1343.7,575.6 L1346.7,575.7 L1349.7,575.9 L1352.7,576.1 L1355.7,576.3 L1358.7,576.5 L1361.7,576.6 L1364.7,576.8 L1367.7,577.0 L1370.7,577.2 L1373.7,577.4 L1376.6,577.5 L1379.6,577.7 L1382.6,577.9 L1385.6,578.0 L1388.6,578.2 L1391.6,578.4 L1394.6,578.5 L1397.6,578.7 L1400.6,578.8 L1403.6,579.0 L1406.6,579.1 L1409.6,579.3 L1412.6,579.4 L1415.6,579.6 L1418.6,579.7 L1421.6,579.8 L1424.6,580.0 L1427.6,580.1 L1430.6,580.2 L1433.5,580.3 L1436.5,580.5 L1439.5,580.6 L1442.5,580.7 L1445.5,580.8 L1448.5,580.9 L1451.5,581.0 L1454.5,581.1 L1457.5,581.2 L1460.5,581.3 L1463.5,581.4 L1466.5,581.5 L1469.5,581.6 L1472.5,581.7 L1475.5,581.8 L1478.5,581.9 L1481.5,582.0 L1484.5,582.0 L1487.5,582.1 L1490.5,582.2 L1493.5,582.3 L1496.5,582.4 L1499.5,582.4 L1502.5,582.5 L1505.5,582.6 L1508.5,582.6 L1511.5,582.7 L1514.5,582.7 L1517.5,582.8 L1520.5,582.9 L1523.5,582.9 L1526.5,583.0 L1529.5,583.0 L1532.5,583.1 L1535.5,583.1 L1538.5,583.1 L1541.5,583.2 L1544.5,583.2 L1547.5,583.3 L1550.5,583.3 L1553.5,583.3 L1556.5,583.4 L1559.5,583.4 L1562.5,583.4 L1565.5,583.5 L1568.5,583.5 L1571.5,583.5 L1574.5,583.5 L1577.5,583.6 L1580.5,583.6 L1583.5,583.6 L1586.5,583.6 L1589.5,583.6 L1592.5,583.6 L1595.5,583.7 L1598.5,583.7 L1601.5,583.7 L1604.5,583.7 L1607.5,583.7 L1610.5,583.7 L1613.5,583.7 L1616.5,583.7 L1619.5,583.7 L1622.5,583.7 L1625.5,583.7 L1628.5,583.7 L1631.5,583.7 L1634.5,583.7 L1637.5,583.7 L1640.5,583.7 L1643.5,583.7 L1646.5,583.7 L1649.5,583.7 L1652.5,583.7 L1655.5,583.6 L1658.5,583.6 L1661.5,583.6 L1664.5,583.6 L1667.5,583.6 L1670.5,583.6 L1673.5,583.6 L1676.5,583.5 L1679.5,583.5 L1682.5,583.5 L1685.5,583.5 L1688.5,583.5 L1691.5,583.4 L1694.5,583.4 L1697.5,583.4 L1700.5,583.4 L1703.5,583.4 L1706.5,583.3 L1709.5,583.3 L1712.5,583.3 L1715.5,583.3 L1718.5,583.2 L1721.5,583.2 L1724.5,583.2 L1727.5,583.1 L1730.5,583.1 L1733.5,583.1 L1736.5,583.1 L1739.5,583.0 L1742.5,583.0 L1745.5,583.0 L1748.5,582.9 L1751.5,582.9 L1754.5,582.9 L1757.5,582.9 L1760.5,582.8 L1763.5,582.8 L1766.5,582.8 L1769.5,582.7 L1772.5,582.7 L1775.5,582.7 L1778.5,582.6 L1781.5,582.6 L1784.5,582.6 L1787.5,582.5 L1790.5,582.5 L1793.5,582.5 L1796.5,582.4 L1799.5,582.4 L1802.5,582.4 L1805.5,582.3 L1808.5,582.3 L1811.5,582.3 L1814.5,582.3 L1817.5,582.2 L1820.5,582.2 L1823.5,582.2 L1826.5,582.1 L1829.5,582.1 L1832.5,582.1 L1835.5,582.1 L1838.5,582.0 L1841.5,582.0 L1844.5,582.0 L1847.5,581.9 L1850.5,581.9 L1853.5,581.9 L1856.5,581.9 L1859.5,581.8 L1862.5,581.8 L1865.5,581.8 L1868.5,581.8 L1871.5,581.8 L1874.5,581.7 L1877.5,581.7 L1880.5,581.7 L1883.5,581.7 L1886.5,581.7 L1889.5,581.6 L1892.5,581.6 L1895.5,581.6 L1898.5,581.6 L1901.5,581.6 L1904.5,581.6 L1907.5,581.6 L1910.5,581.5 L1913.5,581.5 L1916.5,581.5 L1919.5,581.5 L1922.5,581.5 L1925.5,581.5 L1928.5,581.5 L1931.5,581.5 L1934.5,581.5 L1937.5,581.5 L1940.5,581.5 L1943.5,581.5 L1946.5,581.5 L1949.5,581.5 L1952.0,581.5" stroke="#a24c7e" stroke-width="3.3"/>
<path d="M508.0,649.2 L510.9,648.9 L513.9,648.6 L516.9,648.3 L519.9,648.0 L522.8,647.7 L525.8,647.4 L528.8,647.1 L531.8,646.8 L534.8,646.5 L537.7,646.2 L540.7,645.9 L543.7,645.6 L546.7,645.3 L549.7,645.0 L552.6,644.8 L555.6,644.5 L558.6,644.2 L561.6,643.9 L564.6,643.7 L567.5,643.4 L570.5,643.1 L573.5,642.9 L576.5,642.6 L579.5,642.3 L582.5,642.1 L585.5,641.8 L588.4,641.6 L591.4,641.3 L594.4,641.1 L597.4,640.8 L600.4,640.6 L603.4,640.3 L606.4,640.1 L609.4,639.8 L612.3,639.6 L615.3,639.3 L618.3,639.1 L621.3,638.9 L624.3,638.6 L627.3,638.4 L630.3,638.2 L633.3,638.0 L636.3,637.7 L639.3,637.5 L642.3,637.3 L645.3,637.1 L648.3,636.9 L651.2,636.6 L654.2,636.4 L657.2,636.2 L660.2,636.0 L663.2,635.8 L666.2,635.6 L669.2,635.4 L672.2,635.2 L675.2,635.0 L678.2,634.8 L681.2,634.6 L684.2,634.4 L687.2,634.2 L690.2,634.1 L693.2,633.9 L696.2,633.7 L699.2,633.5 L702.2,633.3 L705.2,633.1 L708.2,633.0 L711.2,632.8 L714.2,632.6 L717.2,632.5 L720.2,632.3 L723.2,632.1 L726.2,632.0 L729.2,631.8 L732.2,631.6 L735.2,631.5 L738.2,631.3 L741.2,631.2 L744.2,631.0 L747.2,630.9 L750.2,630.7 L753.2,630.6 L756.2,630.4 L759.2,630.3 L762.2,630.2 L765.2,630.0 L768.2,629.9 L771.2,629.7 L774.2,629.6 L777.2,629.5 L780.2,629.4 L783.2,629.2 L786.2,629.1 L789.2,629.0 L792.2,628.9 L795.2,628.7 L798.2,628.6 L801.2,628.5 L804.2,628.4 L807.2,628.3 L810.2,628.2 L813.2,628.1 L816.2,628.0 L819.2,627.9 L822.2,627.8 L825.2,627.7 L828.2,627.6 L831.2,627.5 L834.2,627.4 L837.2,627.3 L840.2,627.2 L843.2,627.1 L846.2,627.0 L849.2,627.0 L852.1,626.9 L855.1,626.8 L858.1,626.7 L861.1,626.6 L864.1,626.6 L867.1,626.5 L870.1,626.4 L873.1,626.4 L876.1,626.3 L879.1,626.2 L882.1,626.2 L885.1,626.1 L888.1,626.1 L891.1,626.0 L894.1,626.0 L897.1,625.9 L900.1,625.8 L903.1,625.8 L906.1,625.8 L909.1,625.7 L912.1,625.7 L915.1,625.6 L918.0,625.6 L921.0,625.5 L924.0,625.5 L927.0,625.4 L930.0,625.4 L933.0,625.3 L936.0,625.3 L939.0,625.2 L942.0,625.2 L945.0,625.1 L948.0,625.0 L950.9,625.0 L953.9,624.9 L956.9,624.8 L959.9,624.7 L962.9,624.6 L965.9,624.5 L968.9,624.4 L971.9,624.3 L974.9,624.2 L977.8,624.1 L980.8,623.9 L983.8,623.8 L986.8,623.6 L989.8,623.4 L992.8,623.3 L995.8,623.1 L998.7,622.9 L1001.7,622.7 L1004.7,622.5 L1007.7,622.2 L1010.7,622.0 L1013.7,621.7 L1016.7,621.4 L1019.6,621.2 L1022.6,620.9 L1025.6,620.6 L1028.6,620.2 L1031.6,619.9 L1034.6,619.5 L1037.6,619.1 L1040.5,618.8 L1043.5,618.3 L1046.5,617.9 L1049.5,617.5 L1052.5,617.0 L1055.5,616.5 L1058.4,616.0 L1061.4,615.5 L1064.4,615.0 L1067.4,614.4 L1070.4,613.8 L1073.3,613.2 L1076.3,612.6 L1079.3,611.9 L1082.2,611.2 L1085.1,610.5 L1088.1,609.7 L1091.0,609.0 L1093.9,608.1 L1096.8,607.3 L1099.7,606.4 L1102.5,605.4 L1105.3,604.5 L1108.2,603.4 L1110.9,602.4 L1113.7,601.3 L1116.5,600.1 L1119.2,598.9 L1121.9,597.6 L1124.5,596.3 L1127.2,595.0 L1129.8,593.6 L1132.4,592.1 L1134.9,590.6 L1137.4,589.0 L1139.9,587.4 L1142.4,585.8 L1144.8,584.1 L1147.2,582.4 L1149.6,580.6 L1152.0,578.8 L1154.3,576.9 L1156.6,575.0 L1158.8,573.1 L1161.0,571.2 L1163.2,569.2 L1165.4,567.1 L1167.5,565.1 L1169.6,563.0 L1171.7,560.9 L1173.8,558.7 L1175.8,556.6 L1177.7,554.4 L1179.7,552.1 L1181.6,549.9 L1183.5,547.6 L1185.4,545.3 L1187.2,543.0 L1189.1,540.7 L1190.9,538.4 L1192.7,536.1 L1194.6,533.7 L1196.4,531.4 L1198.3,529.0 L1200.2,526.6 L1202.1,524.3 L1204.1,521.9 L1206.1,519.6 L1208.2,517.2 L1210.3,514.9 L1212.4,512.6 L1214.6,510.3 L1216.8,508.1 L1219.1,505.9 L1221.4,503.7 L1223.8,501.6 L1226.2,499.5 L1228.6,497.5 L1231.1,495.6 L1233.6,493.7 L1236.1,492.0 L1238.6,490.3 L1241.2,488.7 L1243.8,487.2 L1246.4,485.8 L1249.1,484.5 L1251.7,483.3 L1254.4,482.2 L1257.1,481.3 L1259.8,480.5 L1262.5,479.9 L1265.3,479.3 L1268.0,479.0 L1270.8,478.7 L1273.5,478.5 L1276.3,478.5 L1279.1,478.5 L1281.9,478.7 L1284.7,478.9 L1287.5,479.3 L1290.4,479.7 L1293.2,480.2 L1296.1,480.8 L1298.9,481.4 L1301.8,482.2 L1304.6,482.9 L1307.5,483.8 L1310.4,484.7 L1313.3,485.6 L1316.1,486.6 L1319.0,487.6 L1321.9,488.6 L1324.8,489.7 L1327.7,490.8 L1330.6,491.9 L1333.5,493.0 L1336.4,494.1 L1339.4,495.2 L1342.3,496.4 L1345.2,497.5 L1348.1,498.6 L1351.0,499.6 L1353.9,500.7 L1356.8,501.7 L1359.7,502.7 L1362.6,503.7 L1365.5,504.6 L1368.4,505.5 L1371.3,506.4 L1374.2,507.3 L1377.1,508.2 L1380.0,509.0 L1382.9,509.8 L1385.8,510.6 L1388.7,511.4 L1391.6,512.1 L1394.4,512.9 L1397.3,513.6 L1400.2,514.3 L1403.1,514.9 L1406.0,515.6 L1408.9,516.3 L1411.8,516.9 L1414.7,517.5 L1417.6,518.1 L1420.5,518.7 L1423.5,519.3 L1426.4,519.9 L1429.3,520.4 L1432.2,521.0 L1435.1,521.5 L1438.0,522.0 L1440.9,522.6 L1443.9,523.1 L1446.8,523.6 L1449.7,524.1 L1452.6,524.6 L1455.6,525.0 L1458.5,525.5 L1461.4,526.0 L1464.4,526.4 L1467.3,526.8 L1470.2,527.3 L1473.2,527.7 L1476.1,528.1 L1479.1,528.5 L1482.0,528.9 L1485.0,529.3 L1487.9,529.7 L1490.9,530.0 L1493.8,530.4 L1496.8,530.8 L1499.7,531.1 L1502.7,531.5 L1505.7,531.8 L1508.6,532.1 L1511.6,532.4 L1514.6,532.7 L1517.5,533.0 L1520.5,533.3 L1523.5,533.6 L1526.4,533.9 L1529.4,534.2 L1532.4,534.5 L1535.4,534.7 L1538.3,535.0 L1541.3,535.2 L1544.3,535.5 L1547.3,535.7 L1550.3,535.9 L1553.3,536.1 L1556.2,536.4 L1559.2,536.6 L1562.2,536.8 L1565.2,537.0 L1568.2,537.2 L1571.2,537.3 L1574.2,537.5 L1577.2,537.7 L1580.2,537.9 L1583.2,538.0 L1586.2,538.2 L1589.2,538.3 L1592.2,538.5 L1595.2,538.6 L1598.2,538.8 L1601.2,538.9 L1604.2,539.0 L1607.2,539.1 L1610.2,539.3 L1613.2,539.4 L1616.2,539.5 L1619.2,539.6 L1622.2,539.7 L1625.2,539.8 L1628.3,539.9 L1631.3,540.0 L1634.3,540.0 L1637.3,540.1 L1640.3,540.2 L1643.3,540.3 L1646.3,540.3 L1649.3,540.4 L1652.4,540.4 L1655.4,540.5 L1658.4,540.6 L1661.4,540.6 L1664.4,540.6 L1667.4,540.7 L1670.5,540.7 L1673.5,540.8 L1676.5,540.8 L1679.5,540.8 L1682.5,540.9 L1685.6,540.9 L1688.6,540.9 L1691.6,540.9 L1694.6,540.9 L1697.6,541.0 L1700.6,541.0 L1703.7,541.0 L1706.7,541.0 L1709.7,541.0 L1712.7,541.0 L1715.8,541.0 L1718.8,541.0 L1721.8,541.0 L1724.8,541.0 L1727.8,541.0 L1730.9,541.0 L1733.9,541.0 L1736.9,541.0 L1739.9,540.9 L1742.9,540.9 L1746.0,540.9 L1749.0,540.9 L1752.0,540.9 L1755.0,540.9 L1758.0,540.9 L1761.0,540.8 L1764.1,540.8 L1767.1,540.8 L1770.1,540.8 L1773.1,540.8 L1776.1,540.8 L1779.1,540.7 L1782.2,540.7 L1785.2,540.7 L1788.2,540.7 L1791.2,540.7 L1794.2,540.6 L1797.2,540.6 L1800.2,540.6 L1803.2,540.6 L1806.2,540.6 L1809.3,540.6 L1812.3,540.5 L1815.3,540.5 L1818.3,540.5 L1821.3,540.5 L1824.3,540.5 L1827.3,540.5 L1830.3,540.5 L1833.3,540.5 L1836.3,540.5 L1839.3,540.5 L1842.3,540.4 L1845.3,540.4 L1848.3,540.4 L1851.3,540.4 L1854.3,540.5 L1857.3,540.5 L1860.3,540.5 L1863.3,540.5 L1866.3,540.5 L1869.2,540.5 L1872.2,540.5 L1875.2,540.5 L1878.2,540.6 L1881.2,540.6 L1884.2,540.6 L1887.1,540.6 L1890.1,540.7 L1893.1,540.7 L1896.1,540.7 L1899.1,540.8 L1902.0,540.8 L1905.0,540.9 L1908.0,540.9 L1910.9,541.0 L1913.9,541.1 L1916.9,541.1 L1919.8,541.2 L1922.8,541.2 L1925.8,541.3 L1928.7,541.4 L1931.7,541.5 L1934.6,541.6 L1937.6,541.7 L1940.5,541.8 L1943.5,541.9 L1946.4,542.0 L1949.4,542.1 L1951.8,542.2" stroke="#5f8e8e" stroke-width="3.3"/>
<path d="M1952.2,543.3 L1949.3,543.7 L1946.3,544.2 L1943.3,544.6 L1940.4,545.1 L1937.4,545.5 L1934.5,545.9 L1931.5,546.3 L1928.6,546.7 L1925.6,547.1 L1922.6,547.5 L1919.7,547.9 L1916.7,548.3 L1913.7,548.7 L1910.8,549.0 L1907.8,549.4 L1904.8,549.8 L1901.8,550.1 L1898.9,550.4 L1895.9,550.8 L1892.9,551.1 L1890.0,551.4 L1887.0,551.8 L1884.0,552.1 L1881.0,552.4 L1878.0,552.7 L1875.1,553.0 L1872.1,553.3 L1869.1,553.6 L1866.1,553.8 L1863.1,554.1 L1860.2,554.4 L1857.2,554.7 L1854.2,554.9 L1851.2,555.2 L1848.2,555.4 L1845.2,555.7 L1842.2,555.9 L1839.2,556.1 L1836.3,556.4 L1833.3,556.6 L1830.3,556.8 L1827.3,557.0 L1824.3,557.2 L1821.3,557.4 L1818.3,557.7 L1815.3,557.8 L1812.3,558.0 L1809.3,558.2 L1806.3,558.4 L1803.3,558.6 L1800.3,558.8 L1797.3,559.0 L1794.3,559.1 L1791.3,559.3 L1788.3,559.4 L1785.3,559.6 L1782.3,559.8 L1779.4,559.9 L1776.4,560.1 L1773.4,560.2 L1770.4,560.3 L1767.4,560.5 L1764.3,560.6 L1761.3,560.7 L1758.3,560.9 L1755.3,561.0 L1752.3,561.1 L1749.3,561.2 L1746.3,561.3 L1743.3,561.5 L1740.3,561.6 L1737.3,561.7 L1734.3,561.8 L1731.3,561.9 L1728.3,562.0 L1725.3,562.1 L1722.3,562.2 L1719.3,562.3 L1716.3,562.3 L1713.3,562.4 L1710.3,562.5 L1707.3,562.6 L1704.3,562.7 L1701.3,562.8 L1698.3,562.8 L1695.3,562.9 L1692.3,563.0 L1689.3,563.0 L1686.3,563.1 L1683.3,563.2 L1680.3,563.2 L1677.3,563.3 L1674.3,563.4 L1671.3,563.4 L1668.3,563.5 L1665.3,563.5 L1662.3,563.6 L1659.3,563.7 L1656.3,563.7 L1653.3,563.8 L1650.3,563.8 L1647.3,563.9 L1644.3,563.9 L1641.3,564.0 L1638.3,564.0 L1635.3,564.1 L1632.3,564.1 L1629.3,564.1 L1626.3,564.2 L1623.3,564.2 L1620.3,564.3 L1617.3,564.3 L1614.3,564.4 L1611.3,564.4 L1608.3,564.5 L1605.3,564.5 L1602.3,564.5 L1599.3,564.6 L1596.3,564.6 L1593.3,564.7 L1590.3,564.7 L1587.4,564.7 L1584.4,564.8 L1581.4,564.8 L1578.4,564.9 L1575.4,564.9 L1572.4,565.0 L1569.4,565.0 L1566.4,565.0 L1563.4,565.1 L1560.4,565.1 L1557.4,565.2 L1554.4,565.2 L1551.4,565.3 L1548.4,565.3 L1545.4,565.4 L1542.4,565.4 L1539.4,565.5 L1536.5,565.5 L1533.5,565.6 L1530.5,565.6 L1527.5,565.7 L1524.5,565.7 L1521.5,565.8 L1518.5,565.9 L1515.5,565.9 L1512.5,566.0 L1509.5,566.0 L1506.5,566.1 L1503.5,566.2 L1500.5,566.2 L1497.5,566.3 L1494.5,566.4 L1491.5,566.5 L1488.5,566.5 L1485.5,566.6 L1482.6,566.7 L1479.6,566.8 L1476.6,566.9 L1473.6,566.9 L1470.6,567.0 L1467.6,567.1 L1464.6,567.2 L1461.6,567.3 L1458.6,567.4 L1455.6,567.5 L1452.6,567.6 L1449.6,567.7 L1446.6,567.8 L1443.6,567.9 L1440.6,568.0 L1437.6,568.1 L1434.6,568.3 L1431.6,568.4 L1428.6,568.5 L1425.6,568.6 L1422.6,568.8 L1419.6,568.9 L1416.6,569.0 L1413.6,569.2 L1410.6,569.3 L1407.6,569.5 L1404.6,569.6 L1401.6,569.8 L1398.6,569.9 L1395.6,570.1 L1392.6,570.3 L1389.6,570.5 L1386.6,570.7 L1383.6,571.0 L1380.6,571.3 L1377.7,571.7 L1374.7,572.1 L1371.8,572.5 L1368.9,573.0 L1365.9,573.6 L1363.0,574.2 L1360.2,574.9 L1357.3,575.7 L1354.4,576.6 L1351.6,577.5 L1348.8,578.5 L1346.0,579.5 L1343.2,580.7 L1340.5,581.9 L1337.8,583.1 L1335.1,584.4 L1332.4,585.8 L1329.8,587.2 L1327.2,588.7 L1324.6,590.3 L1322.0,591.9 L1319.5,593.5 L1317.0,595.2 L1314.5,597.0 L1312.1,598.8 L1309.7,600.6 L1307.3,602.5 L1305.0,604.5 L1302.7,606.4 L1300.5,608.5 L1298.2,610.5 L1296.1,612.6 L1293.9,614.8 L1291.8,616.9 L1289.8,619.2 L1287.8,621.4 L1285.8,623.7 L1283.9,626.0 L1282.0,628.3 L1280.1,630.7 L1278.3,633.1 L1276.6,635.5 L1274.8,637.9 L1273.1,640.3 L1271.5,642.8 L1269.8,645.3 L1268.2,647.8 L1266.7,650.4 L1265.1,652.9 L1263.5,655.4 L1262.0,658.0 L1260.5,660.6 L1259.0,663.2 L1257.6,665.8 L1256.1,668.4 L1254.6,671.0 L1253.2,673.6 L1251.7,676.2 L1250.3,678.8 L1248.8,681.4 L1247.4,684.0 L1245.9,686.6 L1244.5,689.2 L1243.0,691.8 L1241.5,694.4 L1240.1,697.0 L1238.6,699.5 L1237.1,702.1 L1235.5,704.7 L1234.0,707.2 L1232.4,709.7 L1230.9,712.3 L1229.3,714.8 L1227.6,717.3 L1226.0,719.9 L1224.3,722.4 L1222.6,724.9 L1220.9,727.4 L1219.1,729.9 L1217.4,732.3 L1215.5,734.8 L1213.7,737.3 L1211.8,739.7 L1209.9,742.2 L1207.9,744.6 L1205.9,747.1 L1203.8,749.5 L1201.8,751.8 L1199.6,754.2 L1197.4,756.4 L1195.2,758.7 L1193.0,760.8 L1190.7,762.8 L1188.3,764.8 L1185.9,766.6 L1183.4,768.4 L1180.9,770.0 L1178.4,771.4 L1175.8,772.7 L1173.2,773.9 L1170.6,774.9 L1167.9,775.8 L1165.3,776.4 L1162.6,776.9 L1159.9,777.2 L1157.2,777.3 L1154.5,777.2 L1151.8,776.9 L1149.1,776.5 L1146.4,775.8 L1143.8,775.1 L1141.1,774.1 L1138.4,773.0 L1135.8,771.9 L1133.1,770.5 L1130.5,769.1 L1127.9,767.6 L1125.3,766.0 L1122.7,764.4 L1120.2,762.7 L1117.6,760.9 L1115.1,759.1 L1112.6,757.3 L1110.1,755.4 L1107.6,753.6 L1105.2,751.7 L1102.7,749.8 L1100.2,748.0 L1097.8,746.1 L1095.3,744.3 L1092.8,742.6 L1090.3,740.8 L1087.7,739.2 L1085.2,737.5 L1082.6,735.9 L1080.0,734.4 L1077.4,732.8 L1074.8,731.3 L1072.2,729.9 L1069.5,728.5 L1066.9,727.1 L1064.2,725.8 L1061.5,724.5 L1058.8,723.2 L1056.0,722.0 L1053.3,720.7 L1050.6,719.6 L1047.8,718.4 L1045.0,717.3 L1042.3,716.2 L1039.5,715.1 L1036.7,714.1 L1033.9,713.0 L1031.0,712.1 L1028.2,711.1 L1025.4,710.1 L1022.5,709.2 L1019.7,708.3 L1016.8,707.4 L1014.0,706.5 L1011.1,705.7 L1008.2,704.8 L1005.4,704.0 L1002.5,703.2 L999.6,702.4 L996.7,701.6 L993.8,700.9 L990.9,700.1 L988.0,699.4 L985.1,698.7 L982.2,698.0 L979.3,697.3 L976.4,696.6 L973.5,695.9 L970.6,695.3 L967.7,694.6 L964.8,694.0 L961.8,693.4 L958.9,692.7 L956.0,692.1 L953.0,691.6 L950.1,691.0 L947.1,690.4 L944.2,689.9 L941.3,689.3 L938.3,688.8 L935.4,688.2 L932.4,687.7 L929.5,687.2 L926.5,686.7 L923.5,686.2 L920.6,685.7 L917.6,685.2 L914.7,684.8 L911.7,684.3 L908.7,683.8 L905.7,683.4 L902.8,682.9 L899.8,682.5 L896.8,682.0 L893.9,681.6 L890.9,681.2 L887.9,680.8 L884.9,680.3 L882.0,679.9 L879.0,679.5 L876.0,679.1 L873.0,678.7 L870.0,678.3 L867.1,677.9 L864.1,677.5 L861.1,677.1 L858.1,676.8 L855.1,676.4 L852.1,676.0 L849.2,675.7 L846.2,675.3 L843.2,675.0 L840.2,674.6 L837.2,674.3 L834.2,674.0 L831.2,673.6 L828.2,673.3 L825.3,673.0 L822.3,672.8 L819.3,672.5 L816.3,672.2 L813.3,672.0 L810.3,671.7 L807.3,671.5 L804.3,671.3 L801.4,671.0 L798.4,670.8 L795.4,670.6 L792.4,670.5 L789.4,670.3 L786.4,670.1 L783.4,670.0 L780.4,669.8 L777.4,669.7 L774.4,669.6 L771.5,669.4 L768.5,669.3 L765.5,669.2 L762.5,669.1 L759.5,669.0 L756.5,669.0 L753.5,668.9 L750.5,668.8 L747.5,668.8 L744.5,668.7 L741.5,668.7 L738.5,668.7 L735.5,668.6 L732.6,668.6 L729.6,668.6 L726.6,668.6 L723.6,668.6 L720.6,668.6 L717.6,668.6 L714.6,668.6 L711.6,668.6 L708.6,668.7 L705.6,668.7 L702.6,668.7 L699.6,668.8 L696.6,668.8 L693.6,668.9 L690.6,668.9 L687.6,669.0 L684.6,669.1 L681.7,669.1 L678.7,669.2 L675.7,669.3 L672.7,669.4 L669.7,669.5 L666.7,669.6 L663.7,669.7 L660.7,669.8 L657.7,669.8 L654.7,670.0 L651.7,670.1 L648.7,670.2 L645.7,670.3 L642.7,670.4 L639.7,670.5 L636.7,670.6 L633.7,670.7 L630.7,670.9 L627.7,671.0 L624.7,671.1 L621.7,671.2 L618.7,671.3 L615.7,671.5 L612.7,671.6 L609.7,671.7 L606.7,671.9 L603.7,672.0 L600.7,672.1 L597.7,672.2 L594.7,672.4 L591.7,672.5 L588.7,672.7 L585.8,672.8 L582.8,673.0 L579.8,673.2 L576.8,673.4 L573.8,673.5 L570.8,673.7 L567.8,674.0 L564.8,674.2 L561.8,674.4 L558.8,674.7 L555.9,675.0 L552.9,675.3 L549.9,675.6 L546.9,675.9 L544.0,676.2 L541.0,676.6 L538.0,677.0 L535.1,677.4 L532.1,677.8 L529.1,678.3 L526.2,678.7 L523.2,679.3 L520.3,679.8 L517.3,680.3 L514.4,680.9 L511.4,681.5 L508.5,682.2 L508.0,682.3" stroke="#5f8e8e" stroke-width="3.3"/>
<path d="M508.1,649.1 L511.1,648.8 L514.0,648.5 L517.0,648.2 L519.9,647.9 L522.9,647.6 L525.8,647.3 L528.8,647.0 L531.8,646.7 L534.7,646.4 L537.7,646.2 L540.7,645.9 L543.6,645.6 L546.6,645.3 L549.6,645.0 L552.5,644.7 L555.5,644.4 L558.5,644.1 L561.5,643.8 L564.5,643.6 L567.4,643.3 L570.4,643.0 L573.4,642.7 L576.4,642.4 L579.4,642.1 L582.4,641.9 L585.4,641.6 L588.4,641.3 L591.3,641.0 L594.3,640.8 L597.3,640.5 L600.3,640.2 L603.3,640.0 L606.3,639.7 L609.3,639.4 L612.3,639.2 L615.3,638.9 L618.3,638.6 L621.3,638.4 L624.3,638.1 L627.3,637.9 L630.3,637.6 L633.3,637.4 L636.3,637.1 L639.3,636.9 L642.3,636.6 L645.3,636.4 L648.3,636.1 L651.3,635.9 L654.3,635.7 L657.3,635.4 L660.3,635.2 L663.3,635.0 L666.3,634.8 L669.3,634.5 L672.3,634.3 L675.3,634.1 L678.3,633.9 L681.3,633.7 L684.3,633.5 L687.3,633.3 L690.3,633.1 L693.3,632.9 L696.3,632.7 L699.3,632.5 L702.3,632.3 L705.3,632.1 L708.3,631.9 L711.3,631.7 L714.3,631.5 L717.2,631.3 L720.2,631.2 L723.2,631.0 L726.2,630.8 L729.2,630.7 L732.2,630.5 L735.2,630.3 L738.2,630.2 L741.1,630.0 L744.1,629.9 L747.1,629.7 L750.1,629.5 L753.1,629.4 L756.1,629.2 L759.1,629.1 L762.0,629.0 L765.0,628.8 L768.0,628.7 L771.0,628.5 L774.0,628.4 L777.0,628.3 L779.9,628.1 L782.9,628.0 L785.9,627.9 L788.9,627.8 L791.9,627.6 L794.9,627.5 L797.8,627.4 L800.8,627.3 L803.8,627.2 L806.8,627.0 L809.8,626.9 L812.8,626.8 L815.7,626.7 L818.7,626.6 L821.7,626.5 L824.7,626.4 L827.7,626.3 L830.7,626.2 L833.7,626.1 L836.6,626.0 L839.6,625.9 L842.6,625.8 L845.6,625.7 L848.6,625.6 L851.6,625.5 L854.6,625.4 L857.6,625.3 L860.6,625.3 L863.5,625.2 L866.5,625.1 L869.5,625.0 L872.5,624.9 L875.5,624.8 L878.5,624.7 L881.5,624.7 L884.5,624.6 L887.5,624.5 L890.5,624.4 L893.5,624.4 L896.5,624.3 L899.5,624.2 L902.5,624.1 L905.5,624.1 L908.5,624.0 L911.5,623.9 L914.5,623.8 L917.5,623.8 L920.5,623.7 L923.5,623.6 L926.5,623.6 L929.5,623.5 L932.5,623.4 L935.5,623.4 L938.5,623.3 L941.6,623.2 L944.6,623.2 L947.6,623.1 L950.6,623.1 L953.6,623.0 L956.6,622.9 L959.7,622.9 L962.7,622.8 L965.7,622.7 L968.7,622.7 L971.7,622.6 L974.8,622.6 L977.8,622.5 L980.8,622.4 L983.9,622.4 L986.9,622.3 L989.9,622.2 L992.9,622.2 L996.0,622.1 L999.0,622.1 L1002.1,622.0 L1005.1,621.9 L1008.1,621.9 L1011.2,621.8 L1014.2,621.7 L1017.3,621.6 L1020.3,621.6 L1023.3,621.4 L1026.3,621.3 L1029.4,621.2 L1032.4,621.0 L1035.4,620.9 L1038.4,620.7 L1041.4,620.5 L1044.4,620.2 L1047.4,620.0 L1050.4,619.7 L1053.4,619.4 L1056.3,619.0 L1059.3,618.6 L1062.2,618.2 L1065.1,617.7 L1068.0,617.2 L1071.0,616.7 L1073.8,616.1 L1076.7,615.5 L1079.6,614.9 L1082.4,614.1 L1085.2,613.4 L1088.1,612.6 L1090.9,611.7 L1093.6,610.8 L1096.4,609.9 L1099.1,608.8 L1101.9,607.8 L1104.6,606.7 L1107.3,605.6 L1109.9,604.4 L1112.6,603.1 L1115.2,601.8 L1117.8,600.5 L1120.4,599.1 L1123.0,597.7 L1125.5,596.3 L1128.0,594.8 L1130.5,593.3 L1133.0,591.7 L1135.5,590.1 L1137.9,588.4 L1140.4,586.7 L1142.8,585.0 L1145.1,583.2 L1147.5,581.4 L1149.8,579.6 L1152.1,577.7 L1154.4,575.8 L1156.7,573.8 L1158.9,571.8 L1161.1,569.8 L1163.3,567.8 L1165.4,565.7 L1167.6,563.6 L1169.7,561.4 L1171.8,559.3 L1173.8,557.1 L1175.8,554.8 L1177.8,552.6 L1179.8,550.3 L1181.8,548.0 L1183.7,545.6 L1185.6,543.3 L1187.4,540.9 L1189.3,538.4 L1191.1,536.0 L1192.9,533.5 L1194.6,531.0 L1196.3,528.5 L1198.0,526.0 L1199.7,523.4 L1201.3,520.8 L1202.9,518.2 L1204.5,515.6 L1206.0,513.0 L1207.5,510.3 L1209.0,507.7 L1210.4,505.0 L1211.8,502.3 L1213.2,499.5 L1214.6,496.8 L1215.9,494.0 L1217.1,491.3 L1218.4,488.5 L1219.6,485.7 L1220.8,482.9 L1222.0,480.1 L1223.1,477.3 L1224.3,474.5 L1225.5,471.7 L1226.6,468.9 L1227.8,466.1 L1229.0,463.3 L1230.2,460.6 L1231.4,457.9 L1232.7,455.2 L1234.0,452.5 L1235.3,449.9 L1236.7,447.3 L1238.1,444.7 L1239.6,442.2 L1241.2,439.7 L1242.8,437.3 L1244.5,434.9 L1246.3,432.6 L1248.2,430.3 L1250.2,428.1 L1252.2,426.0 L1254.4,423.9 L1256.6,421.9 L1259.0,420.0 L1261.4,418.2 L1263.9,416.5 L1266.5,414.9 L1269.1,413.5 L1271.7,412.2 L1274.4,411.1 L1277.2,410.1 L1279.9,409.4 L1282.7,408.8 L1285.4,408.4 L1288.2,408.2 L1291.0,408.2 L1293.8,408.4 L1296.6,408.7 L1299.4,409.1 L1302.2,409.7 L1305.0,410.5 L1307.8,411.3 L1310.6,412.3 L1313.4,413.3 L1316.2,414.5 L1319.0,415.7 L1321.8,417.0 L1324.6,418.4 L1327.4,419.8 L1330.2,421.2 L1333.0,422.7 L1335.7,424.2 L1338.5,425.8 L1341.3,427.3 L1344.0,428.8 L1346.7,430.3 L1349.5,431.8 L1352.2,433.3 L1354.9,434.7 L1357.6,436.2 L1360.3,437.6 L1363.0,439.0 L1365.7,440.4 L1368.4,441.8 L1371.1,443.1 L1373.8,444.5 L1376.5,445.8 L1379.2,447.1 L1381.9,448.3 L1384.6,449.6 L1387.3,450.8 L1390.0,452.0 L1392.7,453.2 L1395.4,454.3 L1398.2,455.5 L1400.9,456.6 L1403.7,457.7 L1406.5,458.8 L1409.2,459.8 L1412.0,460.8 L1414.8,461.9 L1417.6,462.8 L1420.4,463.8 L1423.2,464.8 L1426.0,465.7 L1428.8,466.6 L1431.7,467.5 L1434.5,468.4 L1437.3,469.2 L1440.2,470.1 L1443.0,470.9 L1445.9,471.7 L1448.7,472.5 L1451.6,473.3 L1454.5,474.0 L1457.4,474.7 L1460.2,475.5 L1463.1,476.2 L1466.0,476.8 L1468.9,477.5 L1471.8,478.2 L1474.8,478.8 L1477.7,479.4 L1480.6,480.0 L1483.5,480.6 L1486.4,481.2 L1489.4,481.8 L1492.3,482.3 L1495.2,482.9 L1498.2,483.4 L1501.1,483.9 L1504.1,484.4 L1507.0,484.9 L1510.0,485.4 L1513.0,485.9 L1515.9,486.3 L1518.9,486.7 L1521.9,487.2 L1524.8,487.6 L1527.8,488.0 L1530.8,488.4 L1533.8,488.8 L1536.8,489.2 L1539.8,489.5 L1542.7,489.9 L1545.7,490.2 L1548.7,490.6 L1551.7,490.9 L1554.7,491.2 L1557.7,491.5 L1560.7,491.8 L1563.7,492.1 L1566.7,492.4 L1569.7,492.7 L1572.7,493.0 L1575.7,493.3 L1578.7,493.5 L1581.8,493.8 L1584.8,494.0 L1587.8,494.3 L1590.8,494.5 L1593.8,494.7 L1596.8,495.0 L1599.8,495.2 L1602.8,495.4 L1605.8,495.6 L1608.8,495.8 L1611.8,496.0 L1614.9,496.2 L1617.9,496.4 L1620.9,496.6 L1623.9,496.8 L1626.9,497.0 L1629.9,497.2 L1632.9,497.4 L1635.9,497.6 L1638.9,497.8 L1641.9,497.9 L1644.9,498.1 L1647.9,498.3 L1650.9,498.4 L1653.9,498.6 L1656.9,498.8 L1659.9,498.9 L1662.9,499.1 L1665.9,499.2 L1668.9,499.4 L1671.9,499.5 L1674.9,499.7 L1677.9,499.8 L1680.9,500.0 L1683.9,500.1 L1686.9,500.2 L1689.8,500.4 L1692.8,500.5 L1695.8,500.6 L1698.8,500.7 L1701.8,500.9 L1704.8,501.0 L1707.8,501.1 L1710.8,501.2 L1713.8,501.3 L1716.8,501.4 L1719.8,501.6 L1722.7,501.7 L1725.7,501.8 L1728.7,501.9 L1731.7,502.0 L1734.7,502.1 L1737.7,502.2 L1740.7,502.3 L1743.7,502.4 L1746.7,502.4 L1749.6,502.5 L1752.6,502.6 L1755.6,502.7 L1758.6,502.8 L1761.6,502.9 L1764.6,502.9 L1767.6,503.0 L1770.6,503.1 L1773.6,503.2 L1776.5,503.2 L1779.5,503.3 L1782.5,503.4 L1785.5,503.4 L1788.5,503.5 L1791.5,503.5 L1794.5,503.6 L1797.5,503.7 L1800.5,503.7 L1803.4,503.8 L1806.4,503.8 L1809.4,503.9 L1812.4,503.9 L1815.4,504.0 L1818.4,504.0 L1821.4,504.1 L1824.4,504.1 L1827.4,504.2 L1830.4,504.2 L1833.4,504.2 L1836.4,504.3 L1839.3,504.3 L1842.3,504.3 L1845.3,504.4 L1848.3,504.4 L1851.3,504.4 L1854.3,504.5 L1857.3,504.5 L1860.3,504.5 L1863.3,504.6 L1866.3,504.6 L1869.3,504.6 L1872.3,504.6 L1875.3,504.6 L1878.3,504.7 L1881.3,504.7 L1884.3,504.7 L1887.3,504.7 L1890.3,504.7 L1893.3,504.8 L1896.3,504.8 L1899.3,504.8 L1902.3,504.8 L1905.4,504.8 L1908.4,504.8 L1911.4,504.8 L1914.4,504.8 L1917.4,504.8 L1920.4,504.9 L1923.4,504.9 L1926.4,504.9 L1929.4,504.9 L1932.5,504.9 L1935.5,504.9 L1938.5,504.9 L1941.5,504.9 L1944.5,504.9 L1947.6,504.9 L1950.6,504.9 L1952.1,504.9" stroke="#72cb92" stroke-width="3.6"/>
<path d="M1952.1,505.1 L1949.1,505.4 L1946.1,505.8 L1943.1,506.1 L1940.1,506.4 L1937.1,506.7 L1934.1,507.0 L1931.1,507.4 L1928.1,507.7 L1925.1,507.9 L1922.1,508.2 L1919.2,508.5 L1916.2,508.8 L1913.2,509.1 L1910.2,509.3 L1907.2,509.6 L1904.2,509.8 L1901.2,510.1 L1898.2,510.3 L1895.2,510.5 L1892.2,510.8 L1889.2,511.0 L1886.2,511.2 L1883.2,511.4 L1880.3,511.6 L1877.3,511.8 L1874.3,512.0 L1871.3,512.2 L1868.3,512.4 L1865.3,512.6 L1862.3,512.7 L1859.3,512.9 L1856.3,513.1 L1853.3,513.2 L1850.3,513.4 L1847.3,513.5 L1844.3,513.7 L1841.3,513.8 L1838.3,514.0 L1835.3,514.1 L1832.4,514.2 L1829.4,514.3 L1826.4,514.5 L1823.4,514.6 L1820.4,514.7 L1817.4,514.8 L1814.4,514.9 L1811.4,515.0 L1808.4,515.1 L1805.4,515.2 L1802.4,515.3 L1799.4,515.4 L1796.4,515.5 L1793.4,515.5 L1790.4,515.6 L1787.4,515.7 L1784.4,515.8 L1781.4,515.8 L1778.4,515.9 L1775.4,516.0 L1772.4,516.0 L1769.4,516.1 L1766.4,516.1 L1763.4,516.2 L1760.4,516.2 L1757.5,516.3 L1754.5,516.3 L1751.5,516.4 L1748.5,516.4 L1745.5,516.4 L1742.5,516.5 L1739.5,516.5 L1736.5,516.6 L1733.5,516.6 L1730.5,516.6 L1727.5,516.6 L1724.5,516.7 L1721.5,516.7 L1718.5,516.7 L1715.5,516.7 L1712.5,516.8 L1709.5,516.8 L1706.5,516.8 L1703.5,516.8 L1700.5,516.8 L1697.5,516.9 L1694.5,516.9 L1691.5,516.9 L1688.5,516.9 L1685.5,516.9 L1682.5,516.9 L1679.5,517.0 L1676.5,517.0 L1673.5,517.0 L1670.5,517.0 L1667.5,517.0 L1664.5,517.0 L1661.5,517.0 L1658.5,517.0 L1655.5,517.1 L1652.5,517.1 L1649.5,517.1 L1646.5,517.1 L1643.5,517.1 L1640.5,517.1 L1637.5,517.2 L1634.5,517.2 L1631.5,517.2 L1628.5,517.2 L1625.5,517.2 L1622.5,517.2 L1619.5,517.3 L1616.5,517.3 L1613.5,517.3 L1610.5,517.3 L1607.5,517.4 L1604.5,517.4 L1601.5,517.4 L1598.5,517.5 L1595.5,517.5 L1592.5,517.5 L1589.5,517.6 L1586.5,517.6 L1583.5,517.7 L1580.5,517.7 L1577.5,517.8 L1574.5,517.8 L1571.5,517.9 L1568.5,517.9 L1565.5,518.0 L1562.5,518.0 L1559.5,518.1 L1556.5,518.1 L1553.5,518.2 L1550.5,518.3 L1547.5,518.4 L1544.5,518.4 L1541.5,518.5 L1538.5,518.6 L1535.5,518.7 L1532.5,518.8 L1529.5,518.9 L1526.4,519.0 L1523.4,519.1 L1520.4,519.2 L1517.4,519.3 L1514.4,519.4 L1511.4,519.5 L1508.4,519.6 L1505.4,519.7 L1502.4,519.9 L1499.4,520.0 L1496.4,520.1 L1493.4,520.3 L1490.4,520.4 L1487.4,520.6 L1484.4,520.8 L1481.4,520.9 L1478.4,521.1 L1475.4,521.4 L1472.4,521.6 L1469.5,521.8 L1466.5,522.1 L1463.5,522.4 L1460.5,522.7 L1457.5,523.1 L1454.6,523.4 L1451.6,523.8 L1448.6,524.2 L1445.7,524.7 L1442.7,525.2 L1439.8,525.7 L1436.8,526.2 L1433.9,526.8 L1431.0,527.5 L1428.0,528.1 L1425.1,528.8 L1422.2,529.6 L1419.3,530.4 L1416.4,531.2 L1413.6,532.1 L1410.7,533.0 L1407.9,534.0 L1405.1,535.1 L1402.3,536.2 L1399.6,537.4 L1396.9,538.7 L1394.2,540.1 L1391.7,541.5 L1389.1,543.0 L1386.7,544.6 L1384.3,546.4 L1382.0,548.2 L1379.8,550.1 L1377.7,552.1 L1375.6,554.2 L1373.7,556.5 L1371.8,558.8 L1370.0,561.2 L1368.2,563.7 L1366.4,566.1 L1364.6,568.6 L1362.8,571.1 L1361.0,573.6 L1359.1,576.0 L1357.2,578.4 L1355.2,580.7 L1353.1,582.9 L1351.0,585.1 L1348.9,587.3 L1346.7,589.4 L1344.5,591.5 L1342.3,593.6 L1340.1,595.6 L1337.9,597.7 L1335.8,599.8 L1333.7,601.9 L1331.7,604.1 L1329.7,606.2 L1327.8,608.5 L1326.0,610.7 L1324.3,613.0 L1322.6,615.4 L1321.0,617.8 L1319.4,620.2 L1317.9,622.6 L1316.5,625.1 L1315.1,627.6 L1313.7,630.2 L1312.4,632.8 L1311.1,635.4 L1309.8,638.0 L1308.6,640.7 L1307.4,643.4 L1306.2,646.1 L1305.1,648.8 L1303.9,651.5 L1302.8,654.3 L1301.7,657.1 L1300.6,659.9 L1299.4,662.7 L1298.3,665.5 L1297.2,668.3 L1296.1,671.1 L1294.9,674.0 L1293.8,676.8 L1292.7,679.7 L1291.5,682.5 L1290.4,685.4 L1289.2,688.3 L1288.1,691.1 L1286.9,694.0 L1285.8,696.9 L1284.7,699.8 L1283.6,702.7 L1282.5,705.5 L1281.4,708.4 L1280.3,711.3 L1279.2,714.2 L1278.1,717.0 L1277.1,719.9 L1276.1,722.8 L1275.1,725.6 L1274.1,728.5 L1273.1,731.3 L1272.1,734.2 L1271.1,737.0 L1270.2,739.9 L1269.3,742.7 L1268.3,745.5 L1267.4,748.4 L1266.5,751.2 L1265.6,754.0 L1264.7,756.9 L1263.8,759.7 L1263.0,762.5 L1262.1,765.4 L1261.2,768.2 L1260.4,771.0 L1259.5,773.8 L1258.7,776.7 L1257.8,779.5 L1257.0,782.3 L1256.2,785.1 L1255.4,787.9 L1254.5,790.8 L1253.7,793.6 L1252.9,796.4 L1252.1,799.2 L1251.3,802.0 L1250.4,804.9 L1249.6,807.7 L1248.8,810.5 L1248.0,813.3 L1247.2,816.2 L1246.3,819.0 L1245.5,821.8 L1244.7,824.7 L1243.9,827.5 L1243.0,830.3 L1242.2,833.2 L1241.3,836.0 L1240.5,838.8 L1239.6,841.7 L1238.8,844.5 L1237.9,847.4 L1237.0,850.2 L1236.1,853.1 L1235.2,855.9 L1234.3,858.8 L1233.4,861.7 L1232.5,864.5 L1231.6,867.4 L1230.6,870.3 L1229.6,873.1 L1228.7,876.0 L1227.7,878.9 L1226.7,881.8 L1225.7,884.7 L1224.7,887.6 L1223.6,890.5 L1222.6,893.4 L1221.5,896.3 L1220.4,899.3 L1219.3,902.2 L1218.2,905.1 L1217.1,908.1 L1215.9,911.0 L1214.8,913.9 L1213.6,916.9 L1212.4,919.9 L1211.1,922.8 L1209.9,925.8 L1208.6,928.7 L1207.3,931.6 L1205.9,934.5 L1204.5,937.3 L1203.0,939.9 L1201.4,942.5 L1199.8,944.9 L1198.1,947.2 L1196.3,949.3 L1194.4,951.3 L1192.4,953.0 L1190.3,954.5 L1188.0,955.8 L1185.7,956.8 L1183.2,957.6 L1180.8,958.0 L1178.3,958.1 L1175.9,957.9 L1173.6,957.3 L1171.4,956.3 L1169.3,955.0 L1167.4,953.3 L1165.6,951.2 L1163.8,948.9 L1162.2,946.4 L1160.6,943.7 L1159.1,940.9 L1157.7,937.9 L1156.2,934.9 L1154.9,931.8 L1153.5,928.7 L1152.2,925.6 L1150.8,922.7 L1149.5,919.8 L1148.1,917.0 L1146.7,914.3 L1145.3,911.7 L1143.9,909.1 L1142.5,906.5 L1141.2,903.9 L1139.8,901.4 L1138.4,898.8 L1137.0,896.2 L1135.6,893.6 L1134.2,891.0 L1132.8,888.3 L1131.4,885.7 L1130.0,883.1 L1128.6,880.4 L1127.2,877.8 L1125.8,875.1 L1124.3,872.5 L1122.9,869.8 L1121.5,867.2 L1120.0,864.5 L1118.5,861.9 L1117.0,859.3 L1115.5,856.6 L1114.0,854.0 L1112.4,851.4 L1110.8,848.8 L1109.3,846.3 L1107.6,843.7 L1106.0,841.2 L1104.3,838.7 L1102.7,836.2 L1100.9,833.7 L1099.2,831.3 L1097.4,828.8 L1095.6,826.5 L1093.8,824.1 L1091.9,821.8 L1090.0,819.5 L1088.0,817.2 L1086.1,815.0 L1084.0,812.8 L1082.0,810.7 L1079.9,808.6 L1077.8,806.5 L1075.6,804.5 L1073.4,802.5 L1071.2,800.5 L1068.9,798.6 L1066.6,796.7 L1064.3,794.8 L1062.0,793.0 L1059.6,791.2 L1057.2,789.4 L1054.8,787.7 L1052.3,786.0 L1049.8,784.3 L1047.3,782.7 L1044.8,781.0 L1042.2,779.5 L1039.7,777.9 L1037.1,776.4 L1034.5,774.9 L1031.9,773.4 L1029.2,771.9 L1026.5,770.5 L1023.9,769.1 L1021.2,767.7 L1018.5,766.4 L1015.8,765.0 L1013.0,763.7 L1010.3,762.4 L1007.5,761.2 L1004.8,759.9 L1002.0,758.7 L999.2,757.5 L996.4,756.3 L993.7,755.2 L990.9,754.0 L988.1,752.9 L985.3,751.8 L982.4,750.7 L979.6,749.6 L976.8,748.6 L974.0,747.5 L971.2,746.5 L968.3,745.5 L965.5,744.5 L962.7,743.6 L959.8,742.6 L957.0,741.7 L954.1,740.8 L951.3,739.8 L948.4,739.0 L945.5,738.1 L942.7,737.2 L939.8,736.4 L936.9,735.6 L934.0,734.8 L931.1,734.0 L928.3,733.2 L925.4,732.5 L922.5,731.7 L919.6,731.0 L916.7,730.3 L913.8,729.6 L910.9,728.9 L907.9,728.2 L905.0,727.6 L902.1,726.9 L899.2,726.3 L896.3,725.7 L893.3,725.1 L890.4,724.5 L887.5,723.9 L884.5,723.3 L881.6,722.8 L878.7,722.3 L875.7,721.7 L872.8,721.2 L869.8,720.7 L866.9,720.2 L863.9,719.8 L861.0,719.3 L858.0,718.8 L855.0,718.4 L852.1,718.0 L849.1,717.5 L846.1,717.1 L843.2,716.7 L840.2,716.4 L837.2,716.0 L834.2,715.6 L831.3,715.3 L828.3,714.9 L825.3,714.6 L822.3,714.3 L819.3,714.0 L816.4,713.6 L813.4,713.4 L810.4,713.1 L807.4,712.8 L804.4,712.5 L801.4,712.3 L798.4,712.0 L795.4,711.8 L792.4,711.5 L789.4,711.3 L786.4,711.1 L783.4,710.9 L780.4,710.7 L777.4,710.5 L774.4,710.3 L771.4,710.1 L768.4,710.0 L765.4,709.8 L762.4,709.6 L759.4,709.5 L756.4,709.3 L753.4,709.2 L750.4,709.1 L747.4,708.9 L744.4,708.8 L741.4,708.7 L738.4,708.6 L735.4,708.5 L732.4,708.4 L729.3,708.3 L726.3,708.2 L723.3,708.1 L720.3,708.1 L717.3,708.0 L714.3,707.9 L711.3,707.9 L708.3,707.8 L705.3,707.7 L702.3,707.7 L699.3,707.7 L696.3,707.6 L693.3,707.6 L690.3,707.6 L687.3,707.6 L684.3,707.6 L681.3,707.6 L678.3,707.6 L675.3,707.7 L672.3,707.8 L669.3,707.8 L666.4,707.9 L663.4,708.0 L660.4,708.2 L657.4,708.3 L654.4,708.5 L651.5,708.6 L648.5,708.8 L645.5,709.1 L642.6,709.3 L639.6,709.6 L636.6,709.9 L633.7,710.2 L630.7,710.5 L627.8,710.9 L624.8,711.3 L621.9,711.7 L618.9,712.2 L616.0,712.7 L613.0,713.2 L610.1,713.7 L607.2,714.3 L604.3,714.9 L601.3,715.5 L598.4,716.2 L595.5,716.9 L592.6,717.7 L589.7,718.4 L586.8,719.2 L583.9,720.1 L581.0,720.9 L578.1,721.8 L575.2,722.6 L572.3,723.5 L569.4,724.4 L566.6,725.3 L563.7,726.2 L560.8,727.1 L557.9,728.0 L555.0,728.9 L552.1,729.8 L549.2,730.7 L546.3,731.5 L543.4,732.3 L540.5,733.2 L537.6,733.9 L534.7,734.7 L531.8,735.4 L528.9,736.1 L526.0,736.7 L523.0,737.3 L520.1,737.9 L517.2,738.4 L514.2,738.8 L511.3,739.2 L508.3,739.6 L507.9,739.6" stroke="#72cb92" stroke-width="3.6"/>
<path d="M508.0,646.3 L511.0,645.7 L513.9,645.0 L516.9,644.4 L519.8,643.8 L522.8,643.3 L525.7,642.7 L528.7,642.1 L531.6,641.6 L534.6,641.1 L537.5,640.5 L540.5,640.0 L543.4,639.5 L546.4,639.1 L549.3,638.6 L552.3,638.1 L555.3,637.7 L558.2,637.2 L561.2,636.8 L564.2,636.4 L567.1,636.0 L570.1,635.6 L573.1,635.2 L576.0,634.8 L579.0,634.5 L582.0,634.1 L584.9,633.8 L587.9,633.4 L590.9,633.1 L593.9,632.8 L596.8,632.4 L599.8,632.1 L602.8,631.8 L605.8,631.5 L608.7,631.2 L611.7,631.0 L614.7,630.7 L617.7,630.4 L620.6,630.1 L623.6,629.9 L626.6,629.6 L629.6,629.4 L632.6,629.1 L635.5,628.9 L638.5,628.6 L641.5,628.4 L644.5,628.2 L647.5,627.9 L650.5,627.7 L653.4,627.5 L656.4,627.3 L659.4,627.1 L662.4,626.9 L665.4,626.7 L668.4,626.5 L671.3,626.3 L674.3,626.1 L677.3,625.9 L680.3,625.7 L683.3,625.5 L686.3,625.3 L689.3,625.1 L692.3,625.0 L695.2,624.8 L698.2,624.6 L701.2,624.5 L704.2,624.3 L707.2,624.1 L710.2,624.0 L713.2,623.8 L716.2,623.7 L719.2,623.5 L722.1,623.4 L725.1,623.3 L728.1,623.1 L731.1,623.0 L734.1,622.9 L737.1,622.7 L740.1,622.6 L743.1,622.5 L746.1,622.4 L749.1,622.3 L752.1,622.2 L755.1,622.1 L758.1,622.0 L761.1,621.9 L764.1,621.8 L767.1,621.7 L770.0,621.6 L773.0,621.5 L776.0,621.4 L779.0,621.3 L782.0,621.2 L785.0,621.2 L788.0,621.1 L791.0,621.0 L794.0,621.0 L797.0,620.9 L800.0,620.8 L803.0,620.8 L806.0,620.7 L809.0,620.7 L812.0,620.6 L815.0,620.6 L818.0,620.5 L821.0,620.5 L824.0,620.4 L827.0,620.4 L830.0,620.4 L833.1,620.3 L836.1,620.3 L839.1,620.3 L842.1,620.3 L845.1,620.3 L848.1,620.2 L851.1,620.2 L854.1,620.2 L857.1,620.2 L860.1,620.2 L863.1,620.2 L866.1,620.2 L869.1,620.2 L872.1,620.2 L875.1,620.2 L878.2,620.2 L881.2,620.2 L884.2,620.2 L887.2,620.3 L890.2,620.3 L893.2,620.3 L896.2,620.3 L899.2,620.4 L902.2,620.4 L905.2,620.4 L908.3,620.5 L911.3,620.5 L914.3,620.5 L917.3,620.6 L920.3,620.6 L923.3,620.6 L926.3,620.7 L929.4,620.7 L932.4,620.7 L935.4,620.8 L938.4,620.8 L941.4,620.8 L944.4,620.9 L947.4,620.9 L950.4,620.9 L953.5,620.9 L956.5,620.9 L959.5,620.9 L962.5,621.0 L965.5,621.0 L968.5,620.9 L971.5,620.9 L974.5,620.9 L977.5,620.9 L980.5,620.9 L983.5,620.8 L986.5,620.8 L989.5,620.7 L992.5,620.7 L995.5,620.6 L998.5,620.5 L1001.5,620.4 L1004.5,620.3 L1007.5,620.2 L1010.5,620.1 L1013.5,620.0 L1016.5,619.8 L1019.5,619.7 L1022.5,619.5 L1025.4,619.3 L1028.4,619.1 L1031.4,618.9 L1034.4,618.7 L1037.4,618.5 L1040.3,618.3 L1043.3,618.0 L1046.3,617.7 L1049.2,617.4 L1052.2,617.1 L1055.2,616.8 L1058.1,616.5 L1061.1,616.1 L1064.0,615.8 L1067.0,615.4 L1069.9,614.9 L1072.9,614.5 L1075.8,614.0 L1078.7,613.5 L1081.6,612.9 L1084.5,612.3 L1087.4,611.7 L1090.2,611.0 L1093.1,610.2 L1095.9,609.4 L1098.7,608.6 L1101.5,607.6 L1104.3,606.7 L1107.0,605.6 L1109.7,604.5 L1112.4,603.3 L1115.1,602.0 L1117.7,600.7 L1120.3,599.3 L1122.9,597.8 L1125.5,596.3 L1128.0,594.6 L1130.6,593.0 L1133.1,591.3 L1135.5,589.6 L1138.0,587.8 L1140.5,586.0 L1142.9,584.2 L1145.3,582.3 L1147.7,580.5 L1150.1,578.6 L1152.4,576.6 L1154.7,574.7 L1157.0,572.7 L1159.2,570.7 L1161.4,568.7 L1163.6,566.6 L1165.8,564.6 L1167.9,562.5 L1170.0,560.3 L1172.0,558.2 L1174.1,556.0 L1176.1,553.8 L1178.0,551.6 L1180.0,549.4 L1181.9,547.1 L1183.8,544.8 L1185.6,542.5 L1187.4,540.2 L1189.2,537.8 L1191.0,535.4 L1192.7,533.0 L1194.4,530.6 L1196.1,528.2 L1197.7,525.7 L1199.4,523.2 L1201.0,520.7 L1202.5,518.2 L1204.1,515.6 L1205.6,513.1 L1207.1,510.5 L1208.5,507.9 L1209.9,505.2 L1211.3,502.6 L1212.7,499.9 L1214.0,497.2 L1215.4,494.5 L1216.7,491.8 L1217.9,489.1 L1219.2,486.3 L1220.4,483.5 L1221.6,480.8 L1222.8,478.0 L1224.0,475.2 L1225.2,472.4 L1226.3,469.6 L1227.5,466.7 L1228.7,463.9 L1229.9,461.1 L1231.1,458.3 L1232.3,455.5 L1233.6,452.8 L1234.8,450.0 L1236.1,447.2 L1237.4,444.5 L1238.8,441.8 L1240.1,439.1 L1241.5,436.4 L1243.0,433.7 L1244.5,431.1 L1246.1,428.5 L1247.7,425.9 L1249.3,423.4 L1251.1,420.9 L1252.8,418.4 L1254.7,416.0 L1256.6,413.6 L1258.6,411.3 L1260.7,409.0 L1262.8,406.8 L1265.0,404.6 L1267.3,402.6 L1269.6,400.6 L1272.0,398.8 L1274.4,397.1 L1276.9,395.6 L1279.4,394.3 L1282.0,393.1 L1284.6,392.1 L1287.2,391.3 L1289.9,390.8 L1292.6,390.5 L1295.3,390.4 L1298.1,390.4 L1300.9,390.7 L1303.7,391.2 L1306.5,391.8 L1309.3,392.5 L1312.1,393.4 L1314.9,394.4 L1317.7,395.6 L1320.5,396.8 L1323.3,398.1 L1326.1,399.5 L1328.8,400.9 L1331.6,402.4 L1334.3,403.9 L1337.0,405.4 L1339.6,407.0 L1342.3,408.6 L1344.9,410.2 L1347.5,411.8 L1350.1,413.5 L1352.7,415.1 L1355.2,416.8 L1357.8,418.4 L1360.4,420.1 L1362.9,421.7 L1365.5,423.4 L1368.0,425.0 L1370.6,426.6 L1373.2,428.2 L1375.7,429.8 L1378.3,431.4 L1380.9,432.9 L1383.5,434.4 L1386.1,435.9 L1388.7,437.4 L1391.4,438.8 L1394.0,440.2 L1396.7,441.6 L1399.3,443.0 L1402.0,444.3 L1404.7,445.6 L1407.4,446.9 L1410.1,448.2 L1412.8,449.4 L1415.5,450.6 L1418.2,451.8 L1421.0,453.0 L1423.7,454.2 L1426.5,455.3 L1429.2,456.4 L1432.0,457.5 L1434.8,458.6 L1437.6,459.6 L1440.3,460.7 L1443.2,461.7 L1446.0,462.7 L1448.8,463.6 L1451.6,464.6 L1454.4,465.5 L1457.3,466.4 L1460.1,467.3 L1463.0,468.2 L1465.8,469.1 L1468.7,469.9 L1471.5,470.7 L1474.4,471.6 L1477.3,472.3 L1480.2,473.1 L1483.1,473.9 L1486.0,474.6 L1488.9,475.4 L1491.8,476.1 L1494.7,476.8 L1497.6,477.4 L1500.5,478.1 L1503.5,478.8 L1506.4,479.4 L1509.3,480.0 L1512.3,480.6 L1515.2,481.2 L1518.1,481.8 L1521.1,482.4 L1524.1,482.9 L1527.0,483.5 L1530.0,484.0 L1532.9,484.6 L1535.9,485.1 L1538.9,485.6 L1541.8,486.0 L1544.8,486.5 L1547.8,487.0 L1550.8,487.4 L1553.7,487.9 L1556.7,488.3 L1559.7,488.8 L1562.7,489.2 L1565.7,489.6 L1568.6,490.0 L1571.6,490.4 L1574.6,490.8 L1577.6,491.1 L1580.6,491.5 L1583.6,491.9 L1586.6,492.2 L1589.6,492.6 L1592.5,492.9 L1595.5,493.2 L1598.5,493.6 L1601.5,493.9 L1604.5,494.2 L1607.5,494.5 L1610.5,494.8 L1613.5,495.1 L1616.5,495.4 L1619.5,495.7 L1622.4,495.9 L1625.4,496.2 L1628.4,496.5 L1631.4,496.7 L1634.4,497.0 L1637.4,497.2 L1640.4,497.5 L1643.4,497.7 L1646.4,497.9 L1649.4,498.1 L1652.4,498.4 L1655.3,498.6 L1658.3,498.8 L1661.3,499.0 L1664.3,499.2 L1667.3,499.4 L1670.3,499.6 L1673.3,499.7 L1676.3,499.9 L1679.3,500.1 L1682.3,500.3 L1685.3,500.4 L1688.2,500.6 L1691.2,500.7 L1694.2,500.9 L1697.2,501.0 L1700.2,501.2 L1703.2,501.3 L1706.2,501.5 L1709.2,501.6 L1712.2,501.7 L1715.2,501.8 L1718.2,501.9 L1721.2,502.1 L1724.2,502.2 L1727.2,502.3 L1730.1,502.4 L1733.1,502.5 L1736.1,502.6 L1739.1,502.7 L1742.1,502.8 L1745.1,502.8 L1748.1,502.9 L1751.1,503.0 L1754.1,503.1 L1757.1,503.1 L1760.1,503.2 L1763.1,503.3 L1766.1,503.4 L1769.1,503.4 L1772.1,503.5 L1775.1,503.5 L1778.1,503.6 L1781.1,503.6 L1784.1,503.7 L1787.0,503.7 L1790.0,503.8 L1793.0,503.8 L1796.0,503.9 L1799.0,503.9 L1802.0,503.9 L1805.0,504.0 L1808.0,504.0 L1811.0,504.0 L1814.0,504.1 L1817.0,504.1 L1820.0,504.1 L1823.0,504.2 L1826.0,504.2 L1829.0,504.2 L1832.0,504.2 L1835.0,504.2 L1838.0,504.3 L1841.0,504.3 L1844.0,504.3 L1847.0,504.3 L1850.0,504.3 L1853.0,504.3 L1856.0,504.4 L1859.0,504.4 L1862.0,504.4 L1865.0,504.4 L1868.0,504.4 L1871.0,504.4 L1874.0,504.4 L1877.0,504.4 L1880.0,504.5 L1883.0,504.5 L1886.0,504.5 L1889.0,504.5 L1892.0,504.5 L1895.0,504.5 L1898.0,504.5 L1901.0,504.5 L1904.0,504.6 L1907.0,504.6 L1910.0,504.6 L1913.0,504.6 L1916.0,504.6 L1919.0,504.6 L1922.0,504.7 L1925.1,504.7 L1928.1,504.7 L1931.1,504.7 L1934.1,504.7 L1937.1,504.8 L1940.1,504.8 L1943.1,504.8 L1946.1,504.8 L1949.1,504.9 L1952.0,504.9" stroke="#bc7371" stroke-width="3.3"/>
<path d="M1952.2,505.0 L1949.2,505.6 L1946.3,506.2 L1943.3,506.8 L1940.3,507.3 L1937.3,507.9 L1934.3,508.5 L1931.4,509.0 L1928.4,509.5 L1925.4,510.0 L1922.4,510.5 L1919.5,511.0 L1916.5,511.5 L1913.5,512.0 L1910.5,512.4 L1907.5,512.9 L1904.6,513.3 L1901.6,513.8 L1898.6,514.2 L1895.6,514.6 L1892.6,515.0 L1889.7,515.4 L1886.7,515.8 L1883.7,516.2 L1880.7,516.5 L1877.7,516.9 L1874.8,517.2 L1871.8,517.6 L1868.8,517.9 L1865.8,518.2 L1862.8,518.5 L1859.8,518.8 L1856.9,519.1 L1853.9,519.4 L1850.9,519.7 L1847.9,520.0 L1844.9,520.3 L1842.0,520.5 L1839.0,520.8 L1836.0,521.0 L1833.0,521.3 L1830.0,521.5 L1827.0,521.7 L1824.1,522.0 L1821.1,522.2 L1818.1,522.4 L1815.1,522.6 L1812.1,522.8 L1809.1,523.0 L1806.2,523.1 L1803.2,523.3 L1800.2,523.5 L1797.2,523.7 L1794.2,523.8 L1791.2,524.0 L1788.2,524.1 L1785.3,524.3 L1782.3,524.4 L1779.3,524.5 L1776.3,524.7 L1773.3,524.8 L1770.3,524.9 L1767.3,525.0 L1764.3,525.1 L1761.4,525.3 L1758.4,525.4 L1755.4,525.5 L1752.4,525.6 L1749.4,525.7 L1746.4,525.7 L1743.4,525.8 L1740.4,525.9 L1737.4,526.0 L1734.5,526.1 L1731.5,526.1 L1728.5,526.2 L1725.5,526.3 L1722.5,526.4 L1719.5,526.4 L1716.5,526.5 L1713.5,526.5 L1710.5,526.6 L1707.5,526.7 L1704.5,526.7 L1701.6,526.8 L1698.6,526.8 L1695.6,526.9 L1692.6,526.9 L1689.6,527.0 L1686.6,527.0 L1683.6,527.1 L1680.6,527.1 L1677.6,527.1 L1674.6,527.2 L1671.6,527.2 L1668.6,527.3 L1665.6,527.3 L1662.6,527.4 L1659.6,527.4 L1656.6,527.4 L1653.6,527.5 L1650.6,527.5 L1647.6,527.6 L1644.6,527.6 L1641.6,527.7 L1638.7,527.7 L1635.7,527.8 L1632.7,527.8 L1629.7,527.8 L1626.7,527.9 L1623.7,527.9 L1620.7,528.0 L1617.7,528.1 L1614.7,528.1 L1611.7,528.2 L1608.7,528.2 L1605.7,528.3 L1602.7,528.4 L1599.6,528.4 L1596.6,528.5 L1593.6,528.6 L1590.6,528.7 L1587.6,528.7 L1584.6,528.8 L1581.6,528.9 L1578.6,529.0 L1575.6,529.1 L1572.6,529.2 L1569.6,529.3 L1566.6,529.4 L1563.6,529.5 L1560.6,529.6 L1557.6,529.7 L1554.6,529.8 L1551.6,530.0 L1548.6,530.1 L1545.6,530.2 L1542.5,530.4 L1539.5,530.5 L1536.5,530.7 L1533.5,530.8 L1530.5,531.0 L1527.5,531.1 L1524.5,531.3 L1521.5,531.5 L1518.5,531.7 L1515.5,531.8 L1512.4,532.0 L1509.4,532.2 L1506.4,532.4 L1503.4,532.7 L1500.4,532.9 L1497.4,533.1 L1494.4,533.3 L1491.4,533.6 L1488.3,533.8 L1485.3,534.1 L1482.3,534.3 L1479.3,534.6 L1476.3,534.9 L1473.3,535.2 L1470.3,535.5 L1467.3,535.8 L1464.3,536.2 L1461.3,536.5 L1458.3,536.9 L1455.3,537.4 L1452.4,537.8 L1449.4,538.3 L1446.5,538.8 L1443.6,539.4 L1440.6,540.0 L1437.8,540.6 L1434.9,541.3 L1432.0,542.0 L1429.1,542.7 L1426.3,543.5 L1423.5,544.4 L1420.7,545.2 L1417.9,546.2 L1415.2,547.2 L1412.4,548.2 L1409.7,549.4 L1407.1,550.5 L1404.4,551.8 L1401.8,553.1 L1399.2,554.4 L1396.6,555.9 L1394.0,557.4 L1391.5,558.9 L1389.0,560.6 L1386.6,562.3 L1384.1,564.1 L1381.7,565.9 L1379.3,567.8 L1376.9,569.7 L1374.5,571.6 L1372.2,573.5 L1369.7,575.4 L1367.3,577.3 L1364.9,579.1 L1362.4,581.0 L1359.9,582.8 L1357.5,584.5 L1355.0,586.3 L1352.5,588.0 L1350.0,589.8 L1347.6,591.6 L1345.2,593.4 L1342.9,595.2 L1340.6,597.1 L1338.4,599.0 L1336.3,601.0 L1334.2,603.0 L1332.3,605.2 L1330.4,607.3 L1328.6,609.6 L1326.8,611.9 L1325.2,614.3 L1323.6,616.7 L1322.1,619.2 L1320.6,621.7 L1319.2,624.3 L1317.9,626.9 L1316.6,629.5 L1315.4,632.2 L1314.2,634.9 L1313.0,637.7 L1311.9,640.5 L1310.8,643.3 L1309.7,646.1 L1308.7,649.0 L1307.6,651.8 L1306.6,654.7 L1305.6,657.6 L1304.7,660.5 L1303.7,663.4 L1302.7,666.3 L1301.7,669.2 L1300.7,672.1 L1299.8,675.0 L1298.8,677.9 L1297.8,680.8 L1296.8,683.7 L1295.8,686.5 L1294.8,689.4 L1293.8,692.3 L1292.8,695.2 L1291.8,698.0 L1290.8,700.9 L1289.8,703.8 L1288.8,706.6 L1287.8,709.5 L1286.8,712.3 L1285.8,715.2 L1284.8,718.0 L1283.8,720.9 L1282.8,723.7 L1281.8,726.6 L1280.8,729.4 L1279.8,732.3 L1278.8,735.1 L1277.8,737.9 L1276.8,740.8 L1275.8,743.6 L1274.8,746.4 L1273.8,749.3 L1272.8,752.1 L1271.8,754.9 L1270.8,757.8 L1269.9,760.6 L1268.9,763.4 L1267.9,766.2 L1267.0,769.1 L1266.0,771.9 L1265.0,774.7 L1264.1,777.5 L1263.1,780.4 L1262.2,783.2 L1261.2,786.0 L1260.3,788.8 L1259.4,791.7 L1258.4,794.5 L1257.5,797.3 L1256.6,800.1 L1255.7,803.0 L1254.8,805.8 L1253.9,808.6 L1253.0,811.4 L1252.1,814.3 L1251.3,817.1 L1250.4,819.9 L1249.5,822.8 L1248.7,825.6 L1247.8,828.4 L1247.0,831.3 L1246.1,834.1 L1245.3,836.9 L1244.4,839.8 L1243.6,842.6 L1242.7,845.4 L1241.9,848.3 L1241.0,851.1 L1240.2,854.0 L1239.3,856.8 L1238.4,859.7 L1237.6,862.5 L1236.7,865.4 L1235.8,868.2 L1235.0,871.1 L1234.1,873.9 L1233.2,876.8 L1232.3,879.6 L1231.4,882.5 L1230.5,885.4 L1229.6,888.2 L1228.6,891.1 L1227.7,894.0 L1226.7,896.8 L1225.8,899.7 L1224.8,902.6 L1223.8,905.5 L1222.8,908.4 L1221.8,911.3 L1220.7,914.1 L1219.7,917.0 L1218.6,919.9 L1217.6,922.8 L1216.5,925.7 L1215.4,928.6 L1214.2,931.5 L1213.0,934.4 L1211.8,937.3 L1210.6,940.1 L1209.3,942.9 L1208.0,945.7 L1206.6,948.4 L1205.2,951.1 L1203.8,953.7 L1202.2,956.3 L1200.6,958.8 L1199.0,961.3 L1197.2,963.6 L1195.4,965.9 L1193.6,968.2 L1191.6,970.3 L1189.6,972.3 L1187.4,974.2 L1185.2,976.1 L1182.9,977.8 L1180.5,979.2 L1178.1,980.2 L1175.7,980.3 L1173.3,979.6 L1171.1,978.2 L1168.9,976.3 L1166.9,974.2 L1164.9,972.0 L1163.1,969.7 L1161.3,967.4 L1159.6,965.0 L1157.9,962.6 L1156.4,960.1 L1154.9,957.5 L1153.4,954.9 L1152.0,952.3 L1150.7,949.6 L1149.3,946.9 L1148.1,944.2 L1146.8,941.4 L1145.5,938.6 L1144.3,935.9 L1143.1,933.1 L1141.8,930.3 L1140.6,927.5 L1139.3,924.7 L1138.1,921.9 L1136.8,919.1 L1135.5,916.3 L1134.2,913.5 L1132.9,910.7 L1131.6,907.9 L1130.3,905.2 L1128.9,902.4 L1127.6,899.6 L1126.2,896.9 L1124.8,894.2 L1123.4,891.5 L1121.9,888.8 L1120.5,886.1 L1119.0,883.4 L1117.5,880.8 L1116.0,878.1 L1114.5,875.5 L1112.9,872.9 L1111.3,870.4 L1109.7,867.8 L1108.1,865.3 L1106.4,862.8 L1104.7,860.3 L1103.0,857.9 L1101.3,855.4 L1099.5,853.0 L1097.7,850.7 L1095.9,848.3 L1094.0,846.0 L1092.1,843.7 L1090.2,841.5 L1088.3,839.3 L1086.3,837.1 L1084.2,834.9 L1082.2,832.8 L1080.1,830.7 L1078.0,828.7 L1075.9,826.6 L1073.7,824.6 L1071.6,822.7 L1069.3,820.7 L1067.1,818.8 L1064.8,816.9 L1062.6,815.1 L1060.2,813.2 L1057.9,811.4 L1055.6,809.6 L1053.2,807.9 L1050.8,806.2 L1048.3,804.5 L1045.9,802.8 L1043.4,801.2 L1040.9,799.5 L1038.4,797.9 L1035.9,796.4 L1033.4,794.8 L1030.8,793.3 L1028.2,791.8 L1025.6,790.3 L1023.0,788.9 L1020.4,787.4 L1017.7,786.0 L1015.1,784.7 L1012.4,783.3 L1009.7,782.0 L1007.0,780.6 L1004.3,779.3 L1001.6,778.1 L998.9,776.8 L996.1,775.6 L993.4,774.3 L990.6,773.1 L987.8,772.0 L985.0,770.8 L982.2,769.7 L979.4,768.5 L976.6,767.4 L973.8,766.3 L971.0,765.3 L968.1,764.2 L965.3,763.2 L962.5,762.2 L959.6,761.2 L956.8,760.2 L953.9,759.2 L951.1,758.2 L948.2,757.3 L945.3,756.4 L942.5,755.5 L939.6,754.6 L936.7,753.7 L933.9,752.8 L931.0,752.0 L928.1,751.1 L925.2,750.3 L922.3,749.5 L919.5,748.7 L916.6,747.9 L913.7,747.1 L910.8,746.4 L907.9,745.6 L905.0,744.9 L902.1,744.2 L899.2,743.4 L896.3,742.8 L893.4,742.1 L890.5,741.4 L887.5,740.7 L884.6,740.1 L881.7,739.4 L878.8,738.8 L875.9,738.2 L872.9,737.6 L870.0,737.0 L867.1,736.4 L864.2,735.9 L861.2,735.3 L858.3,734.8 L855.3,734.2 L852.4,733.7 L849.5,733.2 L846.5,732.7 L843.6,732.2 L840.6,731.7 L837.7,731.2 L834.7,730.7 L831.8,730.3 L828.8,729.8 L825.9,729.4 L822.9,728.9 L819.9,728.5 L817.0,728.1 L814.0,727.7 L811.0,727.3 L808.1,726.9 L805.1,726.5 L802.1,726.1 L799.1,725.7 L796.2,725.4 L793.2,725.0 L790.2,724.7 L787.2,724.3 L784.3,724.0 L781.3,723.6 L778.3,723.3 L775.3,723.0 L772.3,722.7 L769.3,722.4 L766.3,722.1 L763.3,721.8 L760.4,721.5 L757.4,721.2 L754.4,720.9 L751.4,720.7 L748.4,720.4 L745.4,720.1 L742.4,719.9 L739.4,719.7 L736.4,719.4 L733.4,719.2 L730.4,719.0 L727.4,718.8 L724.4,718.6 L721.4,718.4 L718.4,718.2 L715.4,718.1 L712.4,717.9 L709.3,717.8 L706.3,717.6 L703.3,717.5 L700.3,717.4 L697.3,717.3 L694.3,717.2 L691.3,717.1 L688.3,717.0 L685.3,716.9 L682.3,716.9 L679.3,716.8 L676.3,716.8 L673.3,716.8 L670.3,716.8 L667.3,716.8 L664.3,716.8 L661.3,716.8 L658.3,716.9 L655.3,716.9 L652.3,717.0 L649.3,717.1 L646.3,717.2 L643.3,717.3 L640.3,717.4 L637.3,717.5 L634.3,717.7 L631.3,717.9 L628.4,718.0 L625.4,718.2 L622.4,718.4 L619.4,718.7 L616.4,718.9 L613.4,719.2 L610.5,719.4 L607.5,719.7 L604.5,720.0 L601.5,720.4 L598.6,720.7 L595.6,721.1 L592.6,721.4 L589.7,721.8 L586.7,722.2 L583.7,722.7 L580.8,723.1 L577.8,723.6 L574.9,724.0 L571.9,724.5 L569.0,725.1 L566.0,725.6 L563.1,726.1 L560.1,726.7 L557.2,727.3 L554.3,727.9 L551.3,728.5 L548.4,729.2 L545.5,729.9 L542.5,730.6 L539.6,731.3 L536.7,732.0 L533.8,732.8 L530.9,733.5 L528.0,734.3 L525.1,735.1 L522.2,736.0 L519.3,736.8 L516.4,737.7 L513.5,738.6 L510.6,739.6 L508.0,740.4" stroke="#bc7371" stroke-width="3.3"/>
<path d="M508.0,646.3 L511.0,645.7 L513.9,645.0 L516.9,644.4 L519.8,643.8 L522.8,643.3 L525.7,642.7 L528.7,642.1 L531.6,641.6 L534.6,641.1 L537.5,640.5 L540.5,640.0 L543.4,639.5 L546.4,639.1 L549.3,638.6 L552.3,638.1 L555.3,637.7 L558.2,637.2 L561.2,636.8 L564.2,636.4 L567.1,636.0 L570.1,635.6 L573.1,635.2 L576.0,634.8 L579.0,634.5 L582.0,634.1 L584.9,633.8 L587.9,633.4 L590.9,633.1 L593.9,632.8 L596.8,632.4 L599.8,632.1 L602.8,631.8 L605.8,631.5 L608.7,631.2 L611.7,631.0 L614.7,630.7 L617.7,630.4 L620.6,630.1 L623.6,629.9 L626.6,629.6 L629.6,629.4 L632.6,629.1 L635.5,628.9 L638.5,628.6 L641.5,628.4 L644.5,628.2 L647.5,627.9 L650.5,627.7 L653.4,627.5 L656.4,627.3 L659.4,627.1 L662.4,626.9 L665.4,626.7 L668.4,626.5 L671.3,626.3 L674.3,626.1 L677.3,625.9 L680.3,625.7 L683.3,625.5 L686.3,625.3 L689.3,625.1 L692.3,625.0 L695.2,624.8 L698.2,624.6 L701.2,624.5 L704.2,624.3 L707.2,624.1 L710.2,624.0 L713.2,623.8 L716.2,623.7 L719.2,623.5 L722.1,623.4 L725.1,623.3 L728.1,623.1 L731.1,623.0 L734.1,622.9 L737.1,622.7 L740.1,622.6 L743.1,622.5 L746.1,622.4 L749.1,622.3 L752.1,622.2 L755.1,622.1 L758.1,622.0 L761.1,621.9 L764.1,621.8 L767.1,621.7 L770.0,621.6 L773.0,621.5 L776.0,621.4 L779.0,621.3 L782.0,621.2 L785.0,621.2 L788.0,621.1 L791.0,621.0 L794.0,621.0 L797.0,620.9 L800.0,620.8 L803.0,620.8 L806.0,620.7 L809.0,620.7 L812.0,620.6 L815.0,620.6 L818.0,620.5 L821.0,620.5 L824.0,620.4 L827.0,620.4 L830.0,620.4 L833.1,620.3 L836.1,620.3 L839.1,620.3 L842.1,620.3 L845.1,620.3 L848.1,620.2 L851.1,620.2 L854.1,620.2 L857.1,620.2 L860.1,620.2 L863.1,620.2 L866.1,620.2 L869.1,620.2 L872.1,620.2 L875.1,620.2 L878.2,620.2 L881.2,620.2 L884.2,620.2 L887.2,620.3 L890.2,620.3 L893.2,620.3 L896.2,620.3 L899.2,620.4 L902.2,620.4 L905.2,620.4 L908.3,620.5 L911.3,620.5 L914.3,620.5 L917.3,620.6 L920.3,620.6 L923.3,620.6 L926.3,620.7 L929.4,620.7 L932.4,620.7 L935.4,620.8 L938.4,620.8 L941.4,620.8 L944.4,620.9 L947.4,620.9 L950.4,620.9 L953.5,620.9 L956.5,620.9 L959.5,620.9 L962.5,621.0 L965.5,621.0 L968.5,620.9 L971.5,620.9 L974.5,620.9 L977.5,620.9 L980.5,620.9 L983.5,620.8 L986.5,620.8 L989.5,620.7 L992.5,620.7 L995.5,620.6 L998.5,620.5 L1001.5,620.4 L1004.5,620.3 L1007.5,620.2 L1010.5,620.1 L1013.5,620.0 L1016.5,619.8 L1019.5,619.7 L1022.5,619.5 L1025.4,619.3 L1028.4,619.1 L1031.4,618.9 L1034.4,618.7 L1037.4,618.5 L1040.3,618.3 L1043.3,618.0 L1046.3,617.7 L1049.2,617.4 L1052.2,617.1 L1055.2,616.8 L1058.1,616.5 L1061.1,616.1 L1064.0,615.8 L1067.0,615.4 L1069.9,614.9 L1072.9,614.5 L1075.8,614.0 L1078.7,613.5 L1081.6,612.9 L1084.5,612.3 L1087.4,611.7 L1090.2,611.0 L1093.1,610.2 L1095.9,609.4 L1098.7,608.6" stroke="#237a42" stroke-width="3.3"/>
<path d="M1095.9,609.4 L1098.7,608.6 L1101.5,607.6 L1104.3,606.7 L1107.0,605.6 L1109.7,604.5 L1112.4,603.3 L1115.1,602.0 L1117.7,600.7 L1120.3,599.3 L1122.9,597.8 L1125.5,596.3 L1128.0,594.6 L1130.6,593.0 L1133.1,591.3 L1135.5,589.6 L1138.0,587.8 L1140.5,586.0 L1142.9,584.2 L1145.3,582.3 L1147.7,580.5 L1150.1,578.6 L1152.4,576.6 L1154.7,574.7 L1157.0,572.7 L1159.2,570.7 L1161.4,568.7 L1163.6,566.6 L1165.8,564.6 L1167.9,562.5 L1170.0,560.3 L1172.0,558.2 L1174.1,556.0 L1176.1,553.8 L1178.0,551.6 L1180.0,549.4 L1181.9,547.1 L1183.8,544.8 L1185.6,542.5 L1187.4,540.2 L1189.2,537.8 L1191.0,535.4 L1192.7,533.0 L1194.4,530.6 L1196.1,528.2 L1197.7,525.7 L1199.4,523.2 L1201.0,520.7 L1202.5,518.2 L1204.1,515.6 L1205.6,513.1 L1207.1,510.5 L1208.5,507.9 L1209.9,505.2 L1211.3,502.6 L1212.7,499.9 L1214.0,497.2" stroke="#5c6838" stroke-width="3.3"/>
<path d="M508.2,717.6 L510.6,715.6 L513.0,713.7 L515.5,711.9 L518.0,710.1 L520.5,708.4 L523.0,706.8 L525.6,705.2 L528.2,703.8 L530.8,702.3 L533.5,701.0 L536.1,699.6 L538.8,698.4 L541.5,697.2 L544.3,696.0 L547.0,694.9 L549.8,693.8 L552.6,692.8 L555.4,691.8 L558.2,690.9 L561.1,690.0 L563.9,689.1 L566.8,688.3 L569.7,687.4 L572.6,686.7 L575.5,685.9 L578.4,685.2 L581.3,684.5 L584.2,683.8 L587.1,683.2 L590.1,682.5 L593.0,681.9 L596.0,681.3 L598.9,680.7 L601.9,680.1 L604.8,679.5 L607.8,678.9 L610.7,678.3 L613.7,677.8 L616.6,677.2 L619.6,676.6 L622.5,676.1 L625.5,675.5 L628.4,675.0 L631.4,674.5 L634.3,674.0 L637.3,673.5 L640.2,673.0 L643.2,672.5 L646.2,672.0 L649.1,671.5 L652.1,671.0 L655.0,670.5 L658.0,670.1 L661.0,669.6 L663.9,669.2 L666.9,668.7 L669.9,668.3 L672.8,667.9 L675.8,667.4 L678.7,667.0 L681.7,666.6 L684.7,666.2 L687.6,665.8 L690.6,665.4 L693.6,665.1 L696.6,664.7 L699.5,664.3 L702.5,664.0 L705.5,663.6 L708.5,663.3 L711.4,662.9 L714.4,662.6 L717.4,662.3 L720.4,662.0 L723.3,661.6 L726.3,661.3 L729.3,661.0 L732.3,660.8 L735.3,660.5 L738.2,660.2 L741.2,659.9 L744.2,659.7 L747.2,659.4 L750.2,659.2 L753.2,658.9 L756.1,658.7 L759.1,658.4 L762.1,658.2 L765.1,658.0 L768.1,657.8 L771.1,657.6 L774.1,657.4 L777.1,657.2 L780.1,657.0 L783.1,656.8 L786.1,656.7 L789.1,656.5 L792.1,656.3 L795.0,656.2 L798.0,656.0 L801.0,655.8 L804.0,655.7 L807.0,655.5 L810.0,655.4 L813.0,655.2 L816.0,655.1 L819.0,655.0 L822.0,654.8 L825.0,654.7 L828.0,654.5 L831.0,654.4 L834.0,654.3 L837.0,654.1 L840.0,654.0 L843.0,653.9 L846.0,653.7 L849.0,653.6 L852.0,653.5 L855.0,653.3 L858.0,653.2 L861.0,653.1 L864.0,652.9 L867.0,652.8 L870.0,652.6 L873.0,652.5 L876.0,652.3 L879.0,652.2 L882.0,652.0 L884.9,651.9 L887.9,651.7 L890.9,651.5 L893.9,651.4 L896.9,651.2 L899.9,651.0 L902.9,650.8 L905.9,650.6 L908.9,650.4 L911.8,650.2 L914.8,650.0 L917.8,649.8 L920.8,649.6 L923.8,649.3 L926.7,649.1 L929.7,648.9 L932.7,648.6 L935.7,648.4 L938.6,648.1 L941.6,647.8 L944.6,647.6 L947.6,647.3 L950.5,647.0 L953.5,646.7 L956.5,646.3 L959.4,646.0 L962.4,645.7 L965.3,645.4 L968.3,645.0 L971.3,644.7 L974.2,644.3 L977.2,644.0 L980.2,643.6 L983.1,643.3 L986.1,643.0 L989.1,642.6 L992.1,642.3 L995.1,642.0 L998.0,641.6 L1001.0,641.3 L1004.0,641.0 L1007.0,640.7 L1010.0,640.4 L1013.1,640.1 L1016.1,639.8 L1019.1,639.6 L1022.1,639.3 L1025.2,639.1 L1028.2,638.8 L1031.3,638.6 L1034.3,638.4 L1037.4,638.1 L1040.4,637.9 L1043.4,637.6 L1046.4,637.3 L1049.4,636.9 L1052.4,636.5 L1055.4,636.0 L1058.3,635.5 L1061.2,634.8 L1064.1,634.1 L1067.0,633.3 L1069.8,632.4 L1072.6,631.5 L1075.3,630.4 L1078.0,629.2 L1080.7,628.0 L1083.3,626.6 L1085.9,625.2 L1088.5,623.7 L1091.0,622.2 L1093.5,620.5 L1095.9,618.8 L1098.3,617.1 L1100.7,615.2 L1103.0,613.3 L1105.3,611.4 L1107.5,609.4 L1109.7,607.3 L1111.9,605.2 L1114.0,603.1 L1116.1,600.9 L1118.1,598.6 L1120.1,596.4 L1122.0,594.0 L1123.9,591.7 L1125.8,589.3 L1127.6,586.9 L1129.4,584.5 L1131.1,582.0 L1132.8,579.6 L1134.5,577.1 L1136.1,574.6 L1137.7,572.0 L1139.2,569.5 L1140.7,566.9 L1142.2,564.3 L1143.6,561.7 L1145.0,559.0 L1146.4,556.4 L1147.7,553.7 L1149.0,551.0 L1150.3,548.4 L1151.5,545.6 L1152.8,542.9 L1154.0,540.2 L1155.2,537.4 L1156.3,534.7 L1157.5,531.9 L1158.6,529.1 L1159.7,526.3 L1160.8,523.6 L1161.8,520.7 L1162.9,517.9 L1163.9,515.1 L1164.9,512.3 L1165.9,509.5 L1166.9,506.6 L1167.9,503.8 L1168.9,500.9 L1169.9,498.1 L1170.9,495.3 L1171.8,492.4 L1172.8,489.6 L1173.7,486.7 L1174.7,483.9 L1175.6,481.0 L1176.6,478.1 L1177.5,475.3 L1178.4,472.4 L1179.4,469.6 L1180.3,466.7 L1181.2,463.8 L1182.1,461.0 L1183.0,458.1 L1183.9,455.2 L1184.8,452.4 L1185.7,449.5 L1186.6,446.6 L1187.5,443.8 L1188.3,440.9 L1189.2,438.0 L1190.1,435.2 L1190.9,432.3 L1191.8,429.4 L1192.7,426.5 L1193.5,423.6 L1194.4,420.8 L1195.2,417.9 L1196.1,415.0 L1196.9,412.1 L1197.7,409.2 L1198.6,406.4 L1199.4,403.5 L1200.2,400.6 L1201.0,397.7 L1201.9,394.8 L1202.7,391.9 L1203.5,389.0 L1204.3,386.2 L1205.1,383.3 L1205.9,380.4 L1206.7,377.5 L1207.5,374.6 L1208.3,371.7 L1209.1,368.8 L1209.9,365.9 L1210.7,363.0 L1211.5,360.1 L1212.3,357.2 L1213.0,354.4 L1213.8,351.5 L1214.6,348.6 L1215.4,345.7 L1216.2,342.8 L1216.9,339.9 L1217.7,337.0 L1218.5,334.1 L1219.2,331.2 L1220.0,328.3 L1220.8,325.4 L1221.5,322.5 L1222.3,319.6 L1223.0,316.7 L1223.8,313.8 L1224.5,310.9 L1225.3,308.0 L1226.1,305.1 L1226.8,302.2 L1227.6,299.3 L1228.3,296.4 L1229.1,293.5 L1229.8,290.6 L1230.6,287.8 L1231.3,284.9 L1232.0,282.0 L1232.8,279.1 L1233.5,276.2 L1234.3,273.3 L1235.0,270.4 L1235.8,267.5 L1236.5,264.6 L1237.3,261.7 L1238.0,258.8 L1238.7,255.9 L1239.5,253.0 L1240.2,250.1 L1241.0,247.3 L1241.7,244.4 L1242.4,241.5 L1243.2,238.6 L1243.9,235.7 L1244.7,232.8 L1245.4,229.9 L1246.2,227.0 L1246.9,224.2 L1247.7,221.3 L1248.4,218.4 L1249.2,215.5 L1250.0,212.6 L1250.9,209.8 L1251.7,206.9 L1252.6,204.0 L1253.6,201.1 L1254.5,198.3 L1255.6,195.4 L1256.6,192.6 L1257.8,189.7 L1259.0,186.9 L1260.2,184.0 L1261.5,181.2 L1262.9,178.4 L1264.4,175.6 L1266.0,172.9 L1267.7,170.2 L1269.5,167.7 L1271.4,165.4 L1273.5,163.3 L1275.8,161.4 L1278.2,159.8 L1280.8,158.6 L1283.5,157.9 L1286.2,157.7 L1289.0,158.2 L1291.8,159.1 L1294.5,160.2 L1297.1,161.5 L1299.6,163.0 L1302.0,164.6 L1304.2,166.4 L1306.5,168.2 L1308.6,170.2 L1310.7,172.2 L1312.8,174.4 L1314.8,176.6 L1316.7,178.8 L1318.7,181.1 L1320.6,183.4 L1322.5,185.7 L1324.5,188.0 L1326.4,190.3 L1328.3,192.7 L1330.3,195.0 L1332.2,197.3 L1334.1,199.6 L1336.1,201.9 L1338.0,204.3 L1340.0,206.6 L1342.0,208.9 L1343.9,211.2 L1345.9,213.5 L1347.9,215.8 L1349.9,218.1 L1351.9,220.4 L1353.9,222.6 L1355.9,224.9 L1357.9,227.2 L1359.9,229.5 L1361.9,231.7 L1363.9,234.0 L1365.9,236.3 L1368.0,238.5 L1370.0,240.7 L1372.1,243.0 L1374.1,245.2 L1376.2,247.4 L1378.3,249.6 L1380.4,251.8 L1382.4,254.0 L1384.5,256.2 L1386.6,258.4 L1388.8,260.5 L1390.9,262.7 L1393.0,264.8 L1395.1,266.9 L1397.3,269.1 L1399.4,271.2 L1401.6,273.3 L1403.8,275.4 L1406.0,277.4 L1408.1,279.5 L1410.3,281.5 L1412.6,283.6 L1414.8,285.6 L1417.0,287.6 L1419.2,289.6 L1421.5,291.6 L1423.8,293.5 L1426.0,295.5 L1428.3,297.4 L1430.6,299.3 L1432.9,301.2 L1435.2,303.1 L1437.6,305.0 L1439.9,306.8 L1442.2,308.6 L1444.6,310.5 L1447.0,312.3 L1449.4,314.0 L1451.8,315.8 L1454.2,317.5 L1456.6,319.3 L1459.0,321.0 L1461.5,322.7 L1463.9,324.3 L1466.4,326.0 L1468.9,327.6 L1471.4,329.2 L1473.9,330.8 L1476.4,332.3 L1479.0,333.9 L1481.5,335.4 L1484.1,336.9 L1486.6,338.4 L1489.2,339.9 L1491.8,341.4 L1494.4,342.8 L1497.0,344.2 L1499.6,345.6 L1502.3,347.0 L1504.9,348.4 L1507.6,349.8 L1510.2,351.1 L1512.9,352.4 L1515.6,353.7 L1518.2,355.0 L1520.9,356.3 L1523.7,357.5 L1526.4,358.8 L1529.1,360.0 L1531.8,361.2 L1534.6,362.4 L1537.3,363.6 L1540.1,364.8 L1542.8,365.9 L1545.6,367.0 L1548.4,368.2 L1551.2,369.3 L1554.0,370.4 L1556.8,371.4 L1559.6,372.5 L1562.4,373.5 L1565.2,374.6 L1568.0,375.6 L1570.9,376.6 L1573.7,377.6 L1576.6,378.6 L1579.4,379.5 L1582.3,380.5 L1585.1,381.4 L1588.0,382.3 L1590.9,383.3 L1593.8,384.2 L1596.7,385.0 L1599.5,385.9 L1602.4,386.8 L1605.3,387.6 L1608.2,388.5 L1611.2,389.3 L1614.1,390.1 L1617.0,390.9 L1619.9,391.7 L1622.8,392.5 L1625.7,393.3 L1628.7,394.1 L1631.6,394.8 L1634.5,395.6 L1637.5,396.3 L1640.4,397.0 L1643.4,397.7 L1646.3,398.4 L1649.3,399.1 L1652.2,399.8 L1655.1,400.5 L1658.1,401.1 L1661.1,401.8 L1664.0,402.4 L1667.0,403.1 L1669.9,403.7 L1672.9,404.3 L1675.8,404.9 L1678.8,405.5 L1681.8,406.1 L1684.7,406.7 L1687.7,407.3 L1690.6,407.9 L1693.6,408.4 L1696.6,409.0 L1699.5,409.5 L1702.5,410.1 L1705.4,410.6 L1708.4,411.2 L1711.3,411.7 L1714.3,412.2 L1717.3,412.7 L1720.2,413.2 L1723.2,413.7 L1726.1,414.2 L1729.1,414.7 L1732.0,415.1 L1735.0,415.6 L1737.9,416.1 L1740.9,416.5 L1743.8,417.0 L1746.8,417.4 L1749.7,417.9 L1752.7,418.3 L1755.6,418.7 L1758.6,419.1 L1761.6,419.6 L1764.5,420.0 L1767.5,420.4 L1770.4,420.8 L1773.4,421.1 L1776.3,421.5 L1779.3,421.9 L1782.2,422.3 L1785.2,422.7 L1788.1,423.0 L1791.1,423.4 L1794.0,423.7 L1797.0,424.1 L1800.0,424.4 L1802.9,424.7 L1805.9,425.1 L1808.8,425.4 L1811.8,425.7 L1814.8,426.0 L1817.7,426.3 L1820.7,426.7 L1823.6,427.0 L1826.6,427.2 L1829.6,427.5 L1832.5,427.8 L1835.5,428.1 L1838.5,428.4 L1841.5,428.7 L1844.4,428.9 L1847.4,429.2 L1850.4,429.5 L1853.4,429.7 L1856.3,430.0 L1859.3,430.2 L1862.3,430.4 L1865.3,430.7 L1868.3,430.9 L1871.2,431.2 L1874.2,431.4 L1877.2,431.6 L1880.2,431.8 L1883.2,432.0 L1886.2,432.2 L1889.2,432.5 L1892.2,432.7 L1895.2,432.9 L1898.2,433.1 L1901.2,433.3 L1904.2,433.4 L1907.2,433.6 L1910.2,433.8 L1913.2,434.0 L1916.2,434.2 L1919.3,434.3 L1922.3,434.5 L1925.3,434.7 L1928.3,434.9 L1931.4,435.0 L1934.4,435.2 L1937.4,435.3 L1940.5,435.5 L1943.5,435.6 L1946.5,435.8 L1949.6,435.9 L1952.2,436.1" stroke="#625e9e" stroke-width="3.4"/>
<path d="M1952.6,437.4 L1949.9,438.4 L1947.1,439.4 L1944.3,440.3 L1941.5,441.2 L1938.7,442.1 L1935.9,443.0 L1933.0,443.8 L1930.2,444.6 L1927.3,445.4 L1924.5,446.2 L1921.6,446.9 L1918.7,447.6 L1915.8,448.3 L1912.9,449.0 L1910.0,449.6 L1907.1,450.2 L1904.2,450.9 L1901.3,451.4 L1898.4,452.0 L1895.4,452.6 L1892.5,453.1 L1889.5,453.6 L1886.6,454.1 L1883.6,454.6 L1880.6,455.1 L1877.7,455.6 L1874.7,456.0 L1871.7,456.5 L1868.7,456.9 L1865.8,457.3 L1862.8,457.8 L1859.8,458.2 L1856.8,458.6 L1853.8,458.9 L1850.8,459.3 L1847.8,459.7 L1844.8,460.1 L1841.8,460.4 L1838.8,460.8 L1835.8,461.2 L1832.8,461.5 L1829.8,461.9 L1826.8,462.2 L1823.9,462.6 L1820.9,463.0 L1817.9,463.3 L1814.9,463.7 L1811.9,464.0 L1808.9,464.4 L1805.9,464.7 L1802.9,465.1 L1799.9,465.4 L1797.0,465.7 L1794.0,466.1 L1791.0,466.4 L1788.0,466.8 L1785.0,467.1 L1782.0,467.4 L1779.1,467.8 L1776.1,468.1 L1773.1,468.4 L1770.1,468.8 L1767.1,469.1 L1764.2,469.4 L1761.2,469.8 L1758.2,470.1 L1755.2,470.4 L1752.2,470.7 L1749.3,471.1 L1746.3,471.4 L1743.3,471.7 L1740.3,472.0 L1737.4,472.3 L1734.4,472.6 L1731.4,472.9 L1728.4,473.2 L1725.5,473.6 L1722.5,473.9 L1719.5,474.2 L1716.5,474.5 L1713.6,474.8 L1710.6,475.1 L1707.6,475.4 L1704.6,475.7 L1701.6,475.9 L1698.7,476.2 L1695.7,476.5 L1692.7,476.8 L1689.7,477.1 L1686.8,477.4 L1683.8,477.7 L1680.8,477.9 L1677.8,478.2 L1674.9,478.5 L1671.9,478.8 L1668.9,479.0 L1665.9,479.3 L1662.9,479.6 L1660.0,479.8 L1657.0,480.1 L1654.0,480.4 L1651.0,480.6 L1648.0,480.9 L1645.1,481.1 L1642.1,481.4 L1639.1,481.6 L1636.1,481.9 L1633.1,482.1 L1630.1,482.4 L1627.2,482.6 L1624.2,482.8 L1621.2,483.1 L1618.2,483.3 L1615.2,483.5 L1612.2,483.8 L1609.2,484.0 L1606.2,484.2 L1603.2,484.4 L1600.3,484.6 L1597.3,484.9 L1594.3,485.1 L1591.3,485.3 L1588.3,485.5 L1585.3,485.7 L1582.3,485.9 L1579.3,486.1 L1576.3,486.3 L1573.3,486.5 L1570.3,486.7 L1567.3,486.9 L1564.3,487.1 L1561.3,487.3 L1558.3,487.5 L1555.3,487.8 L1552.3,488.0 L1549.3,488.2 L1546.3,488.4 L1543.3,488.7 L1540.3,488.9 L1537.3,489.2 L1534.3,489.5 L1531.3,489.7 L1528.3,490.0 L1525.3,490.3 L1522.3,490.6 L1519.4,490.9 L1516.4,491.3 L1513.4,491.6 L1510.4,492.0 L1507.4,492.3 L1504.5,492.7 L1501.5,493.1 L1498.6,493.6 L1495.6,494.0 L1492.6,494.4 L1489.7,494.9 L1486.7,495.4 L1483.8,495.9 L1480.9,496.5 L1477.9,497.0 L1475.0,497.6 L1472.1,498.2 L1469.1,498.8 L1466.2,499.5 L1463.3,500.2 L1460.4,500.9 L1457.5,501.6 L1454.6,502.4 L1451.7,503.1 L1448.9,503.9 L1446.0,504.8 L1443.1,505.7 L1440.2,506.6 L1437.4,507.5 L1434.5,508.4 L1431.7,509.4 L1428.9,510.5 L1426.0,511.5 L1423.2,512.6 L1420.4,513.8 L1417.7,514.9 L1414.9,516.2 L1412.2,517.4 L1409.5,518.8 L1406.8,520.1 L1404.2,521.6 L1401.6,523.1 L1399.1,524.6 L1396.6,526.2 L1394.1,527.9 L1391.7,529.6 L1389.4,531.4 L1387.1,533.3 L1384.9,535.2 L1382.8,537.2 L1380.7,539.3 L1378.7,541.5 L1376.7,543.7 L1374.7,545.9 L1372.8,548.2 L1371.0,550.6 L1369.1,552.9 L1367.3,555.3 L1365.5,557.8 L1363.8,560.2 L1362.1,562.7 L1360.3,565.2 L1358.6,567.7 L1356.9,570.2 L1355.2,572.7 L1353.5,575.2 L1351.8,577.7 L1350.0,580.2 L1348.3,582.7 L1346.5,585.1 L1344.8,587.5 L1342.9,589.9 L1341.1,592.3 L1339.3,594.6 L1337.5,596.9 L1335.7,599.3 L1333.9,601.6 L1332.2,604.0 L1330.5,606.4 L1328.9,608.8 L1327.4,611.3 L1326.0,613.8 L1324.7,616.4 L1323.4,619.0 L1322.2,621.7 L1321.0,624.4 L1319.9,627.1 L1318.8,629.8 L1317.8,632.6 L1316.8,635.4 L1315.9,638.2 L1314.9,641.0 L1314.0,643.9 L1313.1,646.7 L1312.2,649.6 L1311.3,652.5 L1310.3,655.3 L1309.4,658.2 L1308.5,661.1 L1307.5,663.9 L1306.5,666.8 L1305.5,669.6 L1304.5,672.4 L1303.4,675.3 L1302.4,678.1 L1301.3,680.9 L1300.2,683.8 L1299.1,686.6 L1298.0,689.4 L1296.9,692.2 L1295.8,695.1 L1294.7,697.9 L1293.6,700.7 L1292.5,703.5 L1291.4,706.3 L1290.3,709.1 L1289.3,711.9 L1288.2,714.8 L1287.1,717.6 L1286.1,720.4 L1285.0,723.2 L1284.0,726.0 L1283.0,728.9 L1282.0,731.7 L1281.0,734.5 L1280.1,737.4 L1279.1,740.2 L1278.2,743.1 L1277.4,745.9 L1276.5,748.8 L1275.7,751.7 L1274.9,754.6 L1274.2,757.4 L1273.5,760.3 L1272.8,763.2 L1272.1,766.1 L1271.5,769.0 L1270.9,772.0 L1270.3,774.9 L1269.8,777.8 L1269.2,780.7 L1268.7,783.7 L1268.2,786.6 L1267.7,789.6 L1267.3,792.5 L1266.8,795.5 L1266.3,798.4 L1265.9,801.4 L1265.5,804.3 L1265.1,807.3 L1264.6,810.3 L1264.2,813.2 L1263.8,816.2 L1263.4,819.2 L1263.0,822.1 L1262.5,825.1 L1262.1,828.1 L1261.7,831.1 L1261.2,834.0 L1260.8,837.0 L1260.3,840.0 L1259.8,842.9 L1259.4,845.9 L1258.9,848.9 L1258.4,851.8 L1257.9,854.8 L1257.4,857.8 L1256.8,860.7 L1256.3,863.7 L1255.8,866.6 L1255.2,869.6 L1254.7,872.6 L1254.1,875.5 L1253.6,878.5 L1253.0,881.4 L1252.4,884.4 L1251.9,887.4 L1251.3,890.3 L1250.7,893.3 L1250.1,896.2 L1249.5,899.2 L1248.9,902.1 L1248.3,905.1 L1247.7,908.0 L1247.1,911.0 L1246.4,913.9 L1245.8,916.9 L1245.2,919.8 L1244.5,922.8 L1243.9,925.7 L1243.3,928.6 L1242.6,931.6 L1242.0,934.5 L1241.3,937.5 L1240.7,940.4 L1240.0,943.3 L1239.3,946.3 L1238.7,949.2 L1238.0,952.1 L1237.4,955.0 L1236.7,958.0 L1236.0,960.9 L1235.4,963.8 L1234.7,966.7 L1234.0,969.7 L1233.3,972.6 L1232.7,975.5 L1232.0,978.4 L1231.3,981.3 L1230.7,984.2 L1230.0,987.2 L1229.3,990.1 L1228.7,993.0 L1228.0,995.9 L1227.3,998.8 L1226.6,1001.7 L1226.0,1004.6 L1225.3,1007.5 L1224.7,1010.4 L1224.0,1013.3 L1223.3,1016.2 L1222.7,1019.1 L1222.0,1022.0 L1221.4,1024.8 L1220.7,1027.7 L1220.1,1030.6 L1219.4,1033.5 L1218.8,1036.4 L1218.1,1039.3 L1217.5,1042.1 L1216.8,1045.0 L1216.1,1047.9 L1215.5,1050.8 L1214.8,1053.7 L1214.1,1056.6 L1213.4,1059.5 L1212.7,1062.4 L1211.9,1065.3 L1211.2,1068.2 L1210.4,1071.1 L1209.6,1074.0 L1208.8,1076.9 L1208.0,1079.8 L1207.1,1082.8 L1206.2,1085.7 L1205.3,1088.6 L1204.4,1091.6 L1203.4,1094.6 L1202.4,1097.5 L1201.4,1100.5 L1200.4,1103.5 L1199.3,1106.5 L1198.1,1109.5 L1197.0,1112.5 L1195.8,1115.6 L1194.5,1118.6 L1193.2,1121.5 L1191.7,1124.2 L1190.1,1126.7 L1188.4,1129.0 L1186.5,1131.0 L1184.4,1132.6 L1182.2,1133.9 L1179.8,1134.7 L1177.4,1135.0 L1174.9,1134.9 L1172.5,1134.3 L1170.2,1133.3 L1167.9,1131.8 L1165.7,1130.0 L1163.6,1128.0 L1161.6,1125.8 L1159.8,1123.4 L1158.0,1120.9 L1156.4,1118.3 L1154.8,1115.7 L1153.3,1112.9 L1151.9,1110.1 L1150.5,1107.2 L1149.2,1104.3 L1147.9,1101.4 L1146.6,1098.5 L1145.4,1095.6 L1144.2,1092.7 L1143.0,1089.8 L1141.8,1086.9 L1140.6,1084.0 L1139.4,1081.2 L1138.2,1078.3 L1137.1,1075.5 L1136.0,1072.7 L1134.8,1069.9 L1133.7,1067.1 L1132.6,1064.3 L1131.5,1061.5 L1130.4,1058.7 L1129.3,1055.9 L1128.2,1053.2 L1127.1,1050.4 L1126.0,1047.7 L1124.9,1044.9 L1123.8,1042.2 L1122.7,1039.5 L1121.6,1036.7 L1120.5,1034.0 L1119.4,1031.3 L1118.3,1028.6 L1117.2,1025.9 L1116.0,1023.1 L1114.9,1020.4 L1113.8,1017.7 L1112.7,1015.0 L1111.5,1012.3 L1110.4,1009.6 L1109.2,1006.9 L1108.0,1004.1 L1106.8,1001.4 L1105.6,998.7 L1104.4,996.0 L1103.2,993.3 L1102.0,990.5 L1100.7,987.8 L1099.4,985.1 L1098.2,982.4 L1096.9,979.7 L1095.6,976.9 L1094.3,974.2 L1092.9,971.5 L1091.6,968.8 L1090.3,966.1 L1088.9,963.4 L1087.5,960.7 L1086.1,958.0 L1084.7,955.4 L1083.3,952.7 L1081.8,950.0 L1080.4,947.4 L1078.9,944.7 L1077.4,942.1 L1075.9,939.4 L1074.4,936.8 L1072.8,934.2 L1071.3,931.6 L1069.7,929.0 L1068.1,926.4 L1066.5,923.8 L1064.9,921.3 L1063.3,918.7 L1061.6,916.2 L1059.9,913.7 L1058.2,911.2 L1056.5,908.7 L1054.8,906.2 L1053.1,903.8 L1051.3,901.3 L1049.5,898.9 L1047.7,896.5 L1045.9,894.1 L1044.1,891.7 L1042.2,889.3 L1040.3,887.0 L1038.4,884.7 L1036.5,882.4 L1034.6,880.1 L1032.6,877.9 L1030.6,875.6 L1028.6,873.4 L1026.6,871.2 L1024.5,869.0 L1022.5,866.9 L1020.4,864.8 L1018.3,862.7 L1016.2,860.6 L1014.0,858.5 L1011.8,856.5 L1009.6,854.5 L1007.4,852.5 L1005.2,850.6 L1002.9,848.7 L1000.6,846.8 L998.3,844.9 L996.0,843.1 L993.6,841.3 L991.2,839.5 L988.8,837.7 L986.4,836.0 L984.0,834.3 L981.5,832.6 L979.0,831.0 L976.6,829.3 L974.1,827.7 L971.5,826.1 L969.0,824.6 L966.4,823.0 L963.9,821.5 L961.3,820.0 L958.7,818.5 L956.1,817.0 L953.5,815.6 L950.8,814.2 L948.2,812.7 L945.5,811.3 L942.9,810.0 L940.2,808.6 L937.5,807.3 L934.9,805.9 L932.2,804.6 L929.5,803.3 L926.8,802.0 L924.1,800.8 L921.3,799.5 L918.6,798.3 L915.9,797.1 L913.1,795.9 L910.4,794.7 L907.6,793.5 L904.9,792.3 L902.1,791.2 L899.3,790.0 L896.6,788.9 L893.8,787.8 L891.0,786.7 L888.2,785.6 L885.4,784.6 L882.6,783.5 L879.8,782.5 L877.0,781.5 L874.2,780.4 L871.3,779.4 L868.5,778.5 L865.7,777.5 L862.8,776.5 L860.0,775.6 L857.1,774.7 L854.3,773.7 L851.4,772.8 L848.5,771.9 L845.7,771.1 L842.8,770.2 L839.9,769.3 L837.0,768.5 L834.2,767.7 L831.3,766.9 L828.4,766.1 L825.5,765.3 L822.6,764.5 L819.7,763.7 L816.8,763.0 L813.9,762.2 L810.9,761.5 L808.0,760.7 L805.1,760.0 L802.2,759.3 L799.3,758.6 L796.3,758.0 L793.4,757.3 L790.5,756.6 L787.5,756.0 L784.6,755.4 L781.7,754.7 L778.7,754.1 L775.8,753.5 L772.8,752.9 L769.9,752.4 L766.9,751.8 L764.0,751.2 L761.0,750.7 L758.1,750.1 L755.1,749.6 L752.2,749.1 L749.2,748.6 L746.2,748.1 L743.3,747.7 L740.3,747.2 L737.3,746.7 L734.4,746.3 L731.4,745.9 L728.4,745.5 L725.5,745.1 L722.5,744.7 L719.5,744.3 L716.5,744.0 L713.6,743.6 L710.6,743.3 L707.6,743.0 L704.6,742.7 L701.6,742.4 L698.7,742.1 L695.7,741.9 L692.7,741.7 L689.7,741.4 L686.7,741.2 L683.8,741.0 L680.8,740.9 L677.8,740.7 L674.8,740.5 L671.8,740.4 L668.9,740.3 L665.9,740.2 L662.9,740.1 L659.9,740.1 L656.9,740.0 L653.9,740.0 L650.9,740.0 L648.0,740.0 L645.0,740.0 L642.0,740.1 L639.0,740.1 L636.0,740.2 L633.1,740.3 L630.1,740.4 L627.1,740.5 L624.1,740.7 L621.1,740.9 L618.2,741.0 L615.2,741.3 L612.2,741.5 L609.2,741.7 L606.3,742.0 L603.3,742.3 L600.3,742.6 L597.3,742.9 L594.4,743.3 L591.4,743.6 L588.4,744.0 L585.5,744.4 L582.5,744.8 L579.5,745.3 L576.6,745.8 L573.6,746.3 L570.7,746.8 L567.7,747.3 L564.7,747.9 L561.8,748.4 L558.8,749.0 L555.9,749.7 L552.9,750.3 L550.0,751.0 L547.1,751.7 L544.1,752.4 L541.2,753.1 L538.2,753.9 L535.3,754.6 L532.4,755.4 L529.4,756.3 L526.5,757.1 L523.6,758.0 L520.7,758.9 L517.7,759.8 L514.8,760.8 L511.9,761.7 L511.9,761.7" stroke="#625e9e" stroke-width="3.4"/>
</g>
</svg>
</body></html>
